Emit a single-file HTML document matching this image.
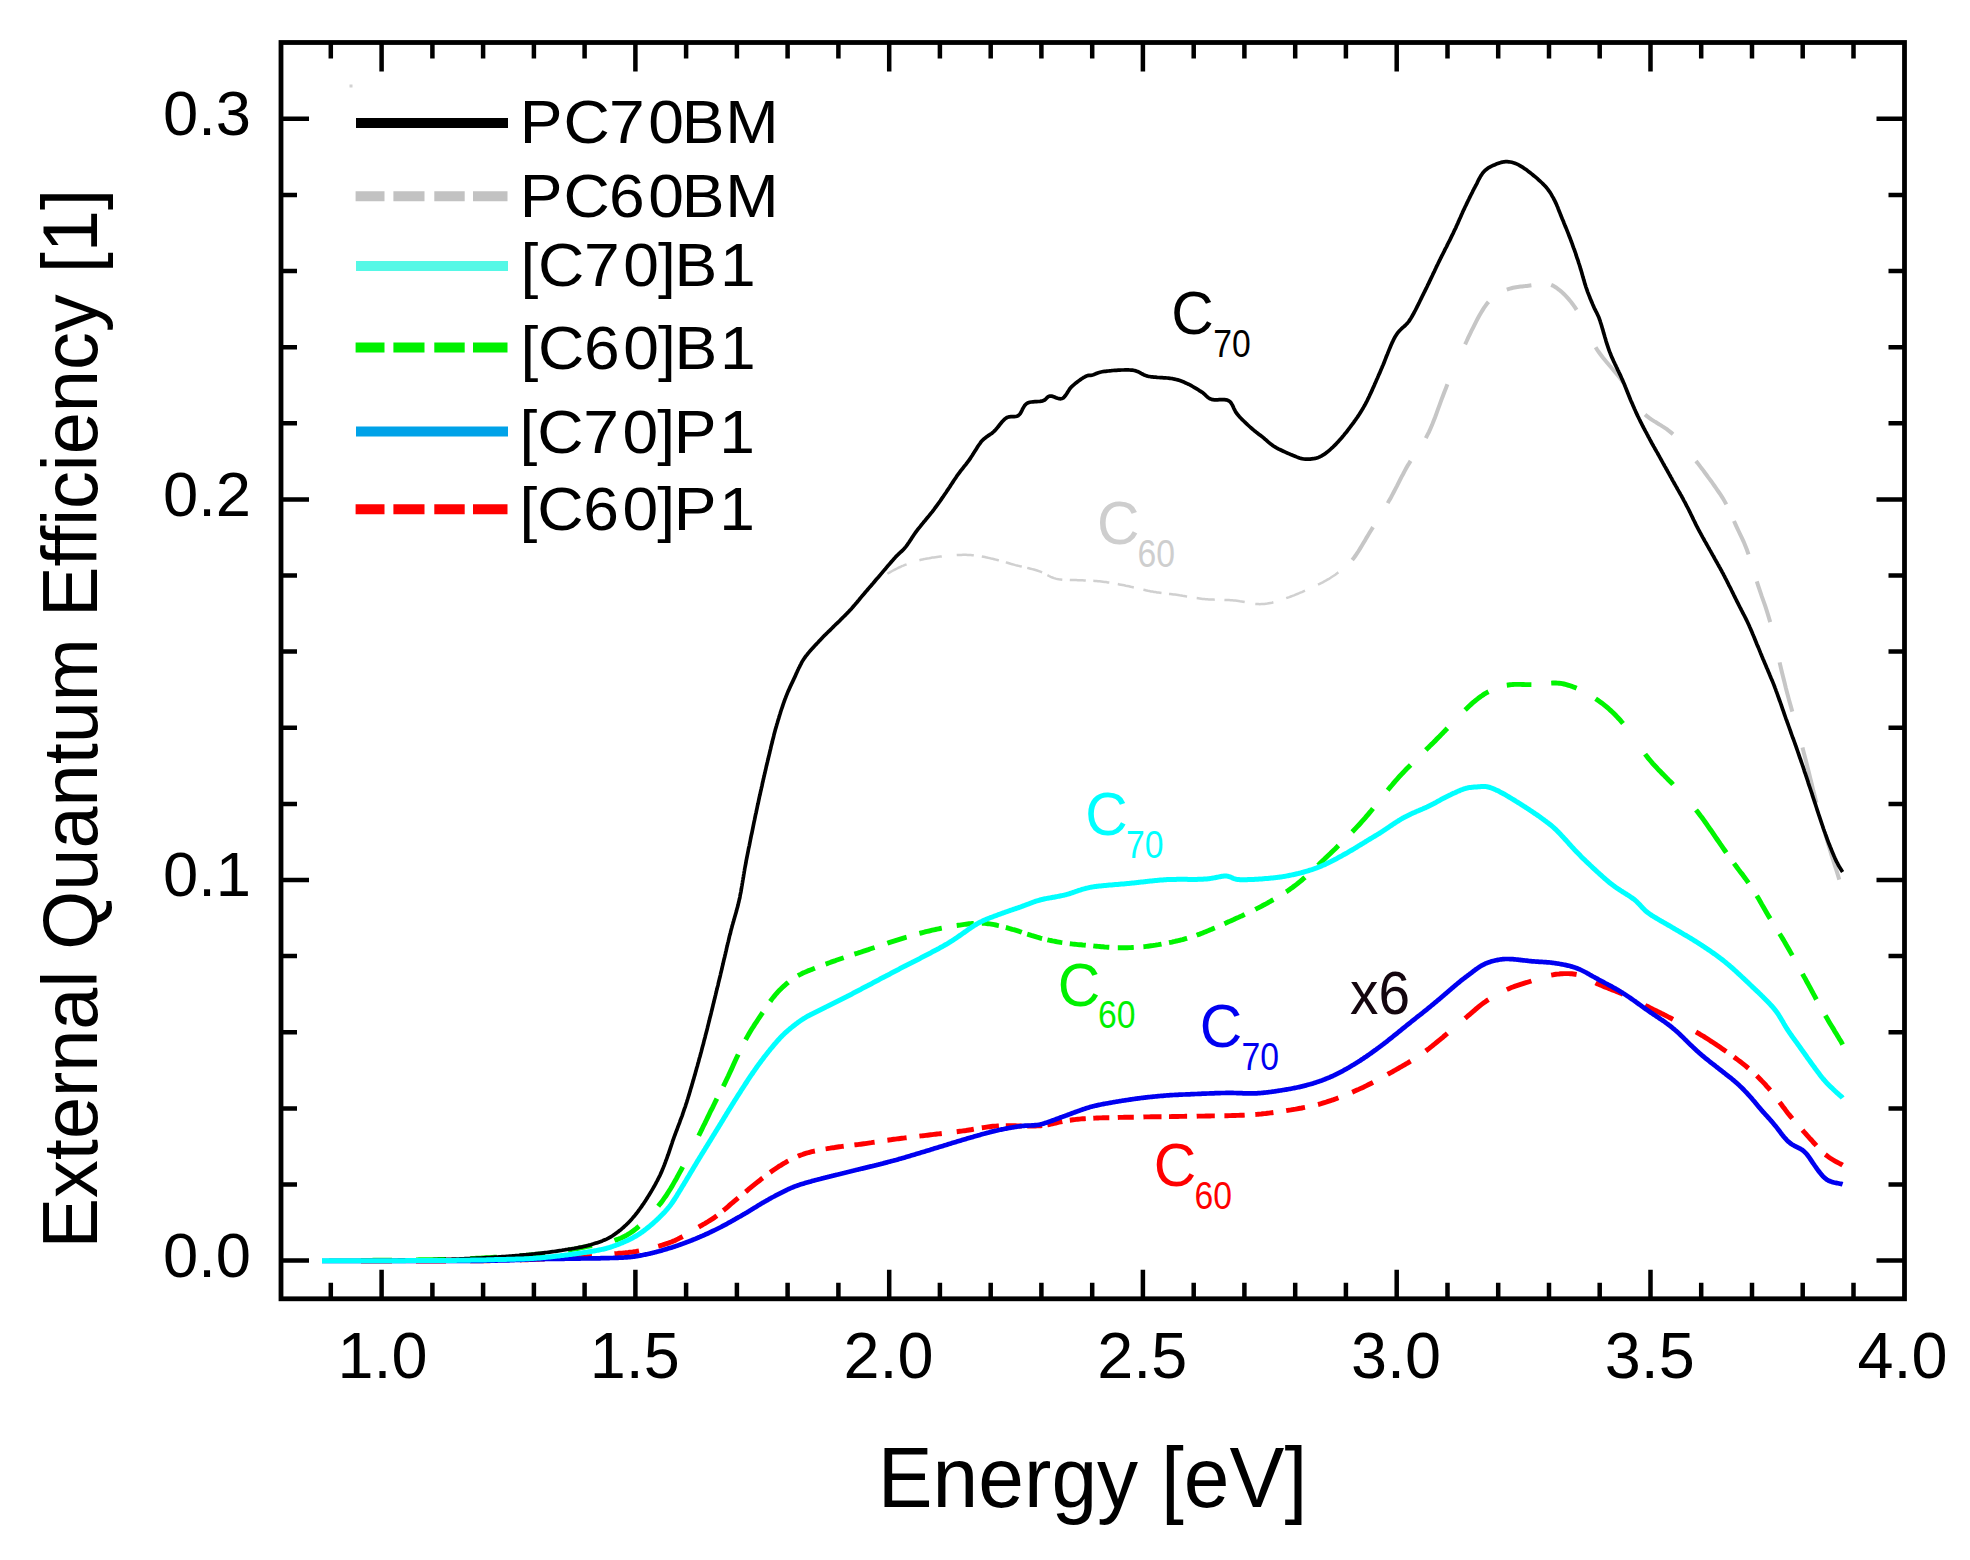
<!DOCTYPE html>
<html lang="en"><head><meta charset="utf-8"><title>External Quantum Efficiency</title>
<style>html,body{margin:0;padding:0;background:#fff}svg{display:block}</style></head>
<body>
<svg width="1970" height="1560" viewBox="0 0 1970 1560">
<rect width="1970" height="1560" fill="#fff"/>
<path d="M887.4,573.8 L889.0,572.8 L890.6,571.9 L892.2,571.0 L893.8,570.2 L895.4,569.3 L897.0,568.5 L898.6,567.7 L900.2,567.0 L901.8,566.2 L903.4,565.6 L905.0,564.9 L906.6,564.3 M919.4,560.2 L921.0,559.8 L922.6,559.4 L924.2,559.1 L925.8,558.7 L927.4,558.4 L929.0,558.2 L930.6,557.9 L932.2,557.6 L933.8,557.4 L935.4,557.2 L937.0,557.0 L938.6,556.8 L940.2,556.6 L941.8,556.4 M956.7,555.1 L958.3,555.0 L959.8,554.9 L961.4,554.9 L962.9,554.8 L964.5,554.8 L966.0,554.8 L967.6,554.9 L969.1,554.9 L970.7,555.0 L972.2,555.2 L973.8,555.3 M981.8,556.5 L983.4,556.8 L984.9,557.1 L986.5,557.4 L988.0,557.8 L989.6,558.1 L991.1,558.5 L992.7,558.8 L994.2,559.2 L995.8,559.6 L997.3,560.0 L998.9,560.4 M1005.8,562.4 L1007.4,562.8 L1009.0,563.3 L1010.6,563.8 L1012.2,564.2 L1013.8,564.6 L1015.4,565.1 L1017.0,565.5 L1018.6,565.9 L1020.2,566.3 L1021.8,566.6 M1027.2,567.9 L1028.9,568.3 L1030.5,568.7 L1032.2,569.1 L1033.8,569.5 L1035.5,570.0 L1037.1,570.5 L1038.8,571.1 L1040.4,571.7 L1042.1,572.4 M1047.4,575.1 L1049.1,576.0 L1050.7,576.8 L1052.4,577.5 L1054.0,578.1 L1055.7,578.6 L1057.3,579.0 L1059.0,579.3 L1060.6,579.5 L1062.3,579.7 M1069.8,579.9 L1071.4,580.0 L1073.0,580.0 L1074.6,580.1 L1076.2,580.1 L1077.8,580.2 L1079.4,580.2 L1081.0,580.3 L1082.6,580.3 L1084.2,580.4 L1085.8,580.5 M1093.3,580.8 L1094.9,580.9 L1096.5,581.0 L1098.1,581.2 L1099.7,581.3 L1101.3,581.5 L1102.9,581.7 L1104.5,581.9 L1106.1,582.1 L1107.7,582.4 L1109.3,582.6 M1117.8,584.1 L1119.4,584.4 L1121.0,584.7 L1122.6,585.0 L1124.2,585.3 L1125.8,585.7 L1127.4,586.0 L1129.0,586.3 L1130.6,586.7 L1132.2,587.1 L1133.8,587.4 M1143.4,589.8 L1144.9,590.1 L1146.4,590.4 L1147.9,590.8 L1149.4,591.1 L1150.9,591.4 L1152.5,591.6 L1154.0,591.9 L1155.5,592.1 L1157.0,592.4 L1158.5,592.6 L1160.0,592.8 L1161.5,593.0 M1169.0,593.9 L1170.5,594.0 L1172.0,594.2 L1173.5,594.4 L1175.0,594.6 L1176.5,594.8 L1178.0,595.0 L1179.6,595.3 L1181.1,595.5 L1182.6,595.8 L1184.1,596.0 L1185.6,596.3 L1187.1,596.5 M1196.7,598.1 L1198.2,598.3 L1199.7,598.5 L1201.2,598.7 L1202.7,598.9 L1204.2,599.0 L1205.8,599.2 L1207.3,599.3 L1208.8,599.4 L1210.3,599.5 L1211.8,599.6 L1213.3,599.6 L1214.8,599.7 M1224.4,599.9 L1226.0,600.0 L1227.5,600.0 L1229.1,600.1 L1230.6,600.2 L1232.2,600.3 L1233.8,600.4 L1235.3,600.5 L1236.9,600.7 L1238.5,600.9 L1240.0,601.2 L1241.6,601.4 L1243.1,601.7 L1244.7,602.0 M1255.3,603.9 L1256.8,604.0 L1258.3,604.1 L1259.8,604.2 L1261.3,604.1 L1262.8,604.1 L1264.3,604.0 L1265.9,603.8 L1267.4,603.6 L1268.9,603.3 L1270.4,603.0 L1271.9,602.7 L1273.4,602.3 M1286.2,598.2 L1287.8,597.6 L1289.3,597.1 L1290.9,596.5 L1292.5,595.9 L1294.0,595.3 L1295.6,594.6 L1297.2,594.0 L1298.7,593.4 L1300.3,592.7 L1301.9,592.1 L1303.4,591.4 L1305.0,590.7 M1318.0,584.7 L1319.6,583.9 L1321.1,583.1 L1322.7,582.3 L1324.3,581.4 L1325.8,580.6 L1327.4,579.7 L1329.0,578.8 L1330.6,577.8 L1332.1,576.8 L1333.7,575.8 L1335.3,574.7 L1336.8,573.5 L1338.4,572.4" fill="none" stroke="#d0d0d0" stroke-width="2.5"/>
<path d="M1352.2,559.9 L1353.8,557.9 L1355.4,555.8 L1357.0,553.4 L1358.6,551.0 L1360.2,548.4 L1361.8,545.8 L1363.4,543.1 L1365.0,540.4 L1366.6,537.6 L1368.2,535.0 L1369.8,532.3 L1371.4,529.7 L1373.0,527.1 M1387.7,503.1 L1389.2,500.4 L1390.8,497.7 L1392.3,494.9 L1393.8,492.0 L1395.3,489.1 L1396.9,486.1 L1398.4,483.1 L1399.9,480.1 L1401.4,477.1 L1403.0,474.2 L1404.5,471.3 L1406.0,468.5 L1407.5,465.9 L1409.1,463.4 L1410.6,460.9 M1425.8,438.1 L1427.3,435.2 L1428.9,432.1 L1430.4,428.7 L1432.0,425.1 L1433.5,421.2 L1435.1,417.2 L1436.6,413.1 L1438.1,408.9 L1439.7,404.6 L1441.2,400.4 L1442.8,396.2 L1444.3,392.2 L1445.9,388.2 L1447.4,384.3 M1465.1,344.3 L1466.7,341.0 L1468.2,337.7 L1469.8,334.5 L1471.3,331.2 L1472.9,328.1 L1474.5,324.9 L1476.0,321.8 L1477.6,318.8 L1479.1,316.0 L1480.7,313.2 L1482.3,310.6 L1483.8,308.1 L1485.4,305.9 L1486.9,303.8 L1488.5,301.9 M1506.8,289.6 L1508.3,289.1 L1509.9,288.6 L1511.4,288.2 L1513.0,287.8 L1514.5,287.5 L1516.0,287.2 L1517.6,287.0 L1519.1,286.8 L1520.6,286.6 L1522.2,286.4 L1523.7,286.2 L1525.2,286.1 L1526.8,285.9 L1528.3,285.7 L1529.9,285.5 L1531.4,285.3 M1551.2,284.9 L1552.8,285.6 L1554.4,286.5 L1556.0,287.5 L1557.5,288.6 L1559.1,289.8 L1560.7,291.1 L1562.3,292.5 L1563.9,294.0 L1565.5,295.6 L1567.1,297.3 L1568.7,299.1 L1570.2,300.9 L1571.8,303.0 L1573.4,305.1 L1575.0,307.4 L1576.6,309.9 M1595.6,347.2 L1597.1,349.6 L1598.6,351.8 L1600.2,354.0 L1601.7,356.0 L1603.2,358.0 L1604.7,359.8 L1606.3,361.7 L1607.8,363.5 L1609.3,365.3 L1610.8,367.0 L1612.3,368.8 L1613.9,370.6 L1615.4,372.4 L1616.9,374.2 L1618.4,376.1 L1620.0,378.1 L1621.5,380.1 L1623.0,382.3 M1645.1,414.5 L1646.6,415.9 L1648.2,417.1 L1649.8,418.3 L1651.3,419.4 L1652.8,420.4 L1654.4,421.4 L1656.0,422.3 L1657.5,423.3 L1659.0,424.2 L1660.6,425.1 L1662.1,426.1 L1663.7,427.1 L1665.2,428.1 L1666.8,429.2 L1668.3,430.4 L1669.9,431.6 L1671.5,432.9 L1673.0,434.2 M1696.0,461.0 L1697.5,462.9 L1699.0,464.9 L1700.5,466.9 L1702.1,468.9 L1703.6,470.9 L1705.1,473.0 L1706.6,475.0 L1708.1,477.1 L1709.6,479.1 L1711.2,481.2 L1712.7,483.3 L1714.2,485.5 L1715.7,487.6 L1717.2,489.8 L1718.7,492.0 L1720.2,494.2 L1721.8,496.6 L1723.3,499.0 L1724.8,501.6 L1726.3,504.4 M1734.0,521.0 L1735.6,524.6 L1737.2,528.1 L1738.8,531.5 L1740.4,534.8 L1742.1,538.3 L1743.7,541.8 L1745.3,545.7 L1746.9,549.8 L1748.5,554.3 M1756.8,581.4 L1758.5,586.6 L1760.2,591.6 L1761.8,596.4 L1763.5,601.1 L1765.2,605.9 L1766.8,610.9 L1768.5,616.3 L1770.2,622.1 M1779.6,662.4 L1781.2,669.2 L1782.8,675.8 L1784.4,682.1 L1785.9,688.3 L1787.5,694.3 L1789.1,700.2 L1790.7,705.9 L1792.3,711.6 M1802.5,747.6 L1804.0,753.4 L1805.6,759.4 L1807.1,765.5 L1808.7,771.7 L1810.2,778.0 L1811.8,784.3 L1813.3,790.6 L1814.9,796.7 L1816.4,802.7 M1825.3,834.5 L1826.9,839.7 L1828.4,844.9 L1830.0,850.0 L1831.5,855.1 L1833.1,860.0 L1834.6,864.9 L1836.2,869.6 L1837.7,874.3 L1839.3,879.6" fill="none" stroke="#c6c6c6" stroke-width="4.0"/>
<path d="M361.0,1260.5 L362.6,1260.4 L364.1,1260.4 L365.6,1260.4 L367.2,1260.4 L368.8,1260.4 L370.3,1260.4 L371.9,1260.4 L373.4,1260.3 L374.9,1260.3 L376.5,1260.3 L378.1,1260.3 L379.6,1260.3 L381.1,1260.3 L382.7,1260.3 L384.2,1260.2 L385.8,1260.2 L387.4,1260.2 L388.9,1260.2 L390.4,1260.2 L392.0,1260.2 M416.0,1259.9 L417.5,1259.9 L419.0,1259.8 L420.5,1259.8 L422.0,1259.8 L423.5,1259.8 L425.0,1259.8 L426.5,1259.7 L428.0,1259.7 L429.5,1259.7 L431.0,1259.7 L432.5,1259.6 L434.0,1259.6 L435.5,1259.6 L437.0,1259.6 L438.5,1259.5 L440.0,1259.5 L441.5,1259.5 L443.0,1259.4 L444.5,1259.4 L446.0,1259.4 M470.0,1258.6 L471.5,1258.5 L473.0,1258.4 L474.5,1258.4 L476.0,1258.3 L477.5,1258.2 L479.0,1258.1 L480.5,1258.1 L482.0,1258.0 L483.5,1257.9 L485.0,1257.8 L486.5,1257.7 L488.0,1257.7 L489.5,1257.6 L491.0,1257.5 L492.5,1257.4 L494.0,1257.3 L495.5,1257.3 L497.0,1257.2 M520.0,1255.7 L521.6,1255.6 L523.1,1255.5 L524.7,1255.4 L526.2,1255.3 L527.8,1255.1 L529.4,1255.0 L530.9,1254.9 L532.5,1254.7 L534.1,1254.6 L535.6,1254.5 L537.2,1254.3 L538.8,1254.2 L540.3,1254.0 L541.9,1253.9 L543.4,1253.7 L545.0,1253.5 M568.0,1250.3 L569.5,1250.0 L571.0,1249.7 L572.5,1249.4 L574.0,1249.2 L575.5,1248.9 L577.0,1248.6 L578.5,1248.3 L580.0,1247.9 L581.5,1247.6 L583.0,1247.3 L584.5,1247.0 L586.0,1246.7 L587.5,1246.4 L589.0,1246.1 L590.5,1245.8 L592.0,1245.5 M614.5,1240.5 L616.0,1239.9 L617.6,1239.4 L619.1,1238.8 L620.6,1238.2 L622.2,1237.5 L623.7,1236.7 L625.2,1236.0 L626.8,1235.1 L628.3,1234.2 L629.8,1233.3 L631.3,1232.2 L632.9,1231.2 L634.4,1230.0 L635.9,1228.8 L637.5,1227.5 L639.0,1226.2 M658.2,1206.2 L659.7,1204.3 L661.3,1202.4 L662.8,1200.3 L664.3,1198.2 L665.9,1196.0 L667.4,1193.7 L668.9,1191.3 L670.5,1188.8 L672.0,1186.2 L673.5,1183.6 L675.0,1180.9 L676.6,1178.2 L678.1,1175.4 L679.6,1172.6 L681.2,1169.8 L682.7,1166.9 M698.7,1135.8 L700.2,1132.7 L701.7,1129.7 L703.2,1126.5 L704.8,1123.4 L706.3,1120.3 L707.8,1117.1 L709.3,1114.0 L710.8,1110.8 L712.4,1107.8 L713.9,1104.7 L715.4,1101.7 L716.9,1098.7 M723.3,1086.3 L725.0,1082.9 L726.6,1079.5 L728.3,1076.0 L729.9,1072.5 L731.6,1068.9 L733.2,1065.3 L734.9,1061.6 L736.5,1058.0 L738.2,1054.5 M745.6,1039.7 L747.2,1036.9 L748.7,1034.2 L750.3,1031.5 L751.8,1029.0 L753.4,1026.6 L754.9,1024.2 L756.5,1021.8 L758.0,1019.5 L759.6,1017.1 L761.1,1014.8 L762.7,1012.5 M770.2,1001.5 L771.7,999.4 L773.2,997.4 L774.7,995.6 L776.2,993.8 L777.7,992.1 L779.2,990.5 L780.8,989.0 L782.3,987.5 L783.8,986.1 L785.3,984.8 L786.8,983.5 L788.3,982.3 M797.9,975.7 L799.4,974.9 L801.0,974.1 L802.5,973.3 L804.1,972.6 L805.6,971.9 L807.2,971.3 L808.7,970.6 L810.3,970.0 L811.8,969.4 L813.4,968.8 L814.9,968.2 M825.6,964.1 L827.1,963.6 L828.6,963.0 L830.1,962.5 L831.6,961.9 L833.1,961.4 L834.7,960.9 L836.2,960.3 L837.7,959.8 L839.2,959.3 L840.7,958.8 L842.2,958.3 L843.7,957.8 M854.4,954.2 L856.0,953.7 L857.5,953.2 L859.1,952.7 L860.6,952.2 L862.2,951.7 L863.7,951.1 L865.3,950.6 L866.8,950.1 L868.4,949.6 L869.9,949.0 L871.5,948.5 L873.0,948.0 L874.6,947.5 M887.4,943.2 L889.0,942.6 L890.6,942.1 L892.2,941.6 L893.8,941.1 L895.4,940.6 L897.0,940.1 L898.6,939.6 L900.2,939.1 L901.8,938.6 L903.4,938.1 L905.0,937.6 L906.6,937.2 M919.4,933.4 L921.0,933.0 L922.6,932.6 L924.2,932.2 L925.8,931.7 L927.4,931.3 L929.0,931.0 L930.6,930.6 L932.2,930.2 L933.8,929.8 L935.4,929.5 L937.0,929.1 L938.6,928.8 L940.2,928.5 L941.8,928.2 M956.7,925.5 L958.3,925.3 L959.8,925.1 L961.4,924.8 L962.9,924.6 L964.5,924.4 L966.0,924.2 L967.6,924.0 L969.1,923.8 L970.7,923.6 L972.2,923.5 L973.8,923.4 M981.8,923.2 L983.4,923.2 L984.9,923.4 L986.5,923.5 L988.0,923.7 L989.6,923.9 L991.1,924.1 L992.7,924.4 L994.2,924.7 L995.8,925.0 L997.3,925.4 L998.9,925.7 M1005.8,927.5 L1007.4,927.9 L1009.0,928.4 L1010.6,928.8 L1012.2,929.3 L1013.8,929.7 L1015.4,930.2 L1017.0,930.7 L1018.6,931.2 L1020.2,931.7 L1021.8,932.3 M1027.2,934.1 L1028.9,934.6 L1030.5,935.1 L1032.2,935.7 L1033.8,936.2 L1035.5,936.7 L1037.1,937.2 L1038.8,937.6 L1040.4,938.1 L1042.1,938.5 M1047.4,939.8 L1049.1,940.2 L1050.7,940.5 L1052.4,940.9 L1054.0,941.2 L1055.7,941.5 L1057.3,941.8 L1059.0,942.1 L1060.6,942.4 L1062.3,942.6 M1069.8,943.7 L1071.4,943.9 L1073.0,944.1 L1074.6,944.2 L1076.2,944.4 L1077.8,944.6 L1079.4,944.7 L1081.0,944.8 L1082.6,945.0 L1084.2,945.1 L1085.8,945.3 M1093.3,945.9 L1094.9,946.1 L1096.5,946.2 L1098.1,946.4 L1099.7,946.5 L1101.3,946.7 L1102.9,946.8 L1104.5,947.0 L1106.1,947.1 L1107.7,947.2 L1109.3,947.3 M1117.8,947.7 L1119.4,947.7 L1121.0,947.7 L1122.6,947.7 L1124.2,947.7 L1125.8,947.7 L1127.4,947.7 L1129.0,947.6 L1130.6,947.6 L1132.2,947.5 L1133.8,947.4 M1143.4,946.7 L1144.9,946.6 L1146.4,946.4 L1147.9,946.2 L1149.4,946.0 L1150.9,945.8 L1152.5,945.6 L1154.0,945.4 L1155.5,945.2 L1157.0,944.9 L1158.5,944.7 L1160.0,944.4 L1161.5,944.1 M1169.0,942.7 L1170.5,942.4 L1172.0,942.1 L1173.5,941.7 L1175.0,941.4 L1176.5,941.0 L1178.0,940.7 L1179.6,940.3 L1181.1,939.9 L1182.6,939.6 L1184.1,939.1 L1185.6,938.7 L1187.1,938.3 M1196.7,935.2 L1198.2,934.6 L1199.7,934.1 L1201.2,933.5 L1202.7,932.9 L1204.2,932.3 L1205.8,931.7 L1207.3,931.1 L1208.8,930.4 L1210.3,929.8 L1211.8,929.2 L1213.3,928.5 L1214.8,927.9 M1224.4,923.7 L1226.0,923.0 L1227.5,922.3 L1229.1,921.6 L1230.6,920.9 L1232.2,920.2 L1233.8,919.5 L1235.3,918.8 L1236.9,918.1 L1238.5,917.4 L1240.0,916.6 L1241.6,915.9 L1243.1,915.2 L1244.7,914.4 M1255.3,909.4 L1256.8,908.6 L1258.3,907.9 L1259.8,907.1 L1261.3,906.3 L1262.8,905.5 L1264.3,904.7 L1265.9,903.9 L1267.4,903.1 L1268.9,902.2 L1270.4,901.4 L1271.9,900.5 L1273.4,899.7 M1286.2,891.8 L1287.8,890.8 L1289.3,889.7 L1290.9,888.6 L1292.5,887.5 L1294.0,886.3 L1295.6,885.1 L1297.2,883.9 L1298.7,882.6 L1300.3,881.3 L1301.9,880.0 L1303.4,878.7 L1305.0,877.3 M1318.0,865.3 L1319.6,863.8 L1321.1,862.3 L1322.7,860.7 L1324.3,859.2 L1325.8,857.7 L1327.4,856.2 L1329.0,854.7 L1330.6,853.2 L1332.1,851.7 L1333.7,850.2 L1335.3,848.7 L1336.8,847.2 L1338.4,845.6 M1352.2,831.9 L1353.8,830.3 L1355.4,828.6 L1357.0,826.9 L1358.6,825.2 L1360.2,823.5 L1361.8,821.7 L1363.4,819.9 L1365.0,818.1 L1366.6,816.2 L1368.2,814.3 L1369.8,812.4 L1371.4,810.5 L1373.0,808.5 M1387.7,790.2 L1389.2,788.3 L1390.8,786.5 L1392.3,784.7 L1393.8,782.9 L1395.3,781.1 L1396.9,779.4 L1398.4,777.7 L1399.9,776.0 L1401.4,774.4 L1403.0,772.7 L1404.5,771.1 L1406.0,769.5 L1407.5,768.0 L1409.1,766.4 L1410.6,764.9 M1425.8,750.0 L1427.3,748.5 L1428.9,747.0 L1430.4,745.4 L1432.0,743.9 L1433.5,742.4 L1435.1,740.9 L1436.6,739.3 L1438.1,737.7 L1439.7,736.2 L1441.2,734.6 L1442.8,733.0 L1444.3,731.4 L1445.9,729.8 L1447.4,728.2 M1465.1,710.0 L1466.7,708.5 L1468.2,707.0 L1469.8,705.5 L1471.3,704.1 L1472.9,702.7 L1474.5,701.4 L1476.0,700.1 L1477.6,698.9 L1479.1,697.7 L1480.7,696.5 L1482.3,695.5 L1483.8,694.4 L1485.4,693.5 L1486.9,692.5 L1488.5,691.7 M1506.8,685.2 L1508.3,685.0 L1509.9,684.8 L1511.4,684.6 L1513.0,684.5 L1514.5,684.4 L1516.0,684.4 L1517.6,684.4 L1519.1,684.4 L1520.6,684.4 L1522.2,684.5 L1523.7,684.5 L1525.2,684.6 L1526.8,684.6 L1528.3,684.6 L1529.9,684.6 L1531.4,684.6 M1551.2,683.1 L1552.8,683.0 L1554.4,683.0 L1556.0,683.0 L1557.5,683.1 L1559.1,683.2 L1560.7,683.4 L1562.3,683.7 L1563.9,684.0 L1565.5,684.4 L1567.1,684.8 L1568.7,685.3 L1570.2,685.8 L1571.8,686.3 L1573.4,686.9 L1575.0,687.6 L1576.6,688.3 M1595.6,698.7 L1597.1,699.7 L1598.6,700.8 L1600.2,701.9 L1601.7,703.0 L1603.2,704.1 L1604.7,705.3 L1606.3,706.6 L1607.8,707.9 L1609.3,709.2 L1610.8,710.6 L1612.3,712.0 L1613.9,713.5 L1615.4,715.0 L1616.9,716.6 L1618.4,718.2 L1620.0,719.9 L1621.5,721.7 L1623.0,723.5 M1645.1,754.1 L1646.6,756.1 L1648.2,758.1 L1649.8,760.0 L1651.3,761.8 L1652.8,763.6 L1654.4,765.3 L1656.0,766.9 L1657.5,768.6 L1659.0,770.2 L1660.6,771.8 L1662.1,773.4 L1663.7,774.9 L1665.2,776.5 L1666.8,778.1 L1668.3,779.7 L1669.9,781.2 L1671.5,782.8 L1673.0,784.5 M1696.0,809.9 L1697.5,811.8 L1699.0,813.8 L1700.5,815.8 L1702.1,817.8 L1703.6,819.9 L1705.1,822.0 L1706.6,824.2 L1708.1,826.3 L1709.6,828.5 L1711.2,830.7 L1712.7,832.9 L1714.2,835.1 L1715.7,837.3 L1717.2,839.5 L1718.7,841.7 L1720.2,843.9 L1721.8,846.1 L1723.3,848.3 L1724.8,850.5 L1726.3,852.7 M1734.0,863.4 L1735.6,865.6 L1737.2,867.7 L1738.8,869.9 L1740.4,872.0 L1742.1,874.1 L1743.7,876.3 L1745.3,878.4 L1746.9,880.6 L1748.5,882.9 M1756.8,895.8 L1758.5,898.6 L1760.2,901.5 L1761.8,904.4 L1763.5,907.3 L1765.2,910.2 L1766.8,913.0 L1768.5,915.9 L1770.2,918.6 M1779.6,933.8 L1781.2,936.3 L1782.8,938.9 L1784.4,941.6 L1785.9,944.3 L1787.5,947.0 L1789.1,949.8 L1790.7,952.6 L1792.3,955.4 M1802.5,973.8 L1804.0,976.6 L1805.6,979.4 L1807.1,982.3 L1808.7,985.1 L1810.2,987.9 L1811.8,990.8 L1813.3,993.7 L1814.9,996.6 L1816.4,999.5 M1825.3,1015.4 L1826.9,1018.1 L1828.4,1020.7 L1830.0,1023.4 L1831.6,1026.0 L1833.2,1028.6 L1834.7,1031.2 L1836.3,1033.8 L1837.9,1036.4 L1839.4,1039.0 L1841.0,1041.5 L1842.6,1044.7" fill="none" stroke="#00f400" stroke-width="4.9"/>
<path d="M322.0,1260.8 L322.8,1260.8 L323.6,1260.8 L324.5,1260.8 L325.5,1260.8 L326.5,1260.8 L327.5,1260.8 L328.6,1260.8 L329.7,1260.7 L330.9,1260.7 L332.2,1260.7 L333.4,1260.7 L334.7,1260.7 L336.1,1260.7 L337.5,1260.7 L338.9,1260.7 L340.4,1260.7 L341.9,1260.7 L343.4,1260.7 L344.9,1260.6 L346.5,1260.6 L348.1,1260.6 L349.7,1260.6 L351.4,1260.6 L353.1,1260.6 L354.7,1260.6 L356.4,1260.6 L358.2,1260.6 L359.9,1260.5 L361.7,1260.5 L363.4,1260.5 L365.2,1260.5 L367.0,1260.5 L368.8,1260.5 L370.6,1260.5 L372.4,1260.5 L374.2,1260.4 L376.0,1260.4 L377.8,1260.4 L379.6,1260.4 L381.3,1260.4 L383.1,1260.4 L384.9,1260.4 L386.7,1260.4 L388.4,1260.3 L390.2,1260.3 L391.9,1260.3 L393.6,1260.3 L395.3,1260.3 L397.0,1260.3 L398.7,1260.2 L400.3,1260.2 L401.9,1260.2 L403.5,1260.2 L405.1,1260.2 L406.6,1260.2 L408.1,1260.2 L409.6,1260.1 L411.0,1260.1 L412.4,1260.1 L413.8,1260.1 L415.1,1260.1 L416.4,1260.1 L417.6,1260.0 L418.8,1260.0 L420.0,1260.0 L422.2,1260.0 L424.3,1259.9 L426.4,1259.9 L428.4,1259.9 L430.3,1259.8 L432.2,1259.8 L434.0,1259.7 L435.8,1259.7 L437.5,1259.7 L439.2,1259.6 L440.8,1259.6 L442.3,1259.5 L443.9,1259.5 L445.4,1259.4 L446.8,1259.4 L448.2,1259.3 L449.6,1259.3 L451.0,1259.3 L452.3,1259.2 L453.6,1259.2 L454.9,1259.1 L456.2,1259.1 L457.5,1259.0 L458.7,1259.0 L460.0,1258.9 L461.2,1258.9 L462.5,1258.8 L463.7,1258.8 L465.0,1258.7 L466.2,1258.7 L467.5,1258.6 L468.7,1258.6 L470.0,1258.5 L471.8,1258.4 L473.6,1258.3 L475.3,1258.3 L477.0,1258.2 L478.6,1258.1 L480.2,1258.0 L481.8,1258.0 L483.3,1257.9 L484.8,1257.8 L486.3,1257.7 L487.7,1257.6 L489.2,1257.6 L490.6,1257.5 L492.0,1257.4 L493.4,1257.3 L494.8,1257.2 L496.2,1257.1 L497.7,1257.0 L499.1,1256.9 L500.5,1256.8 L502.0,1256.7 L503.5,1256.6 L505.0,1256.5 L506.5,1256.4 L508.1,1256.3 L509.6,1256.1 L511.2,1256.0 L512.8,1255.9 L514.4,1255.8 L516.0,1255.6 L517.6,1255.5 L519.1,1255.4 L520.7,1255.2 L522.3,1255.1 L523.9,1254.9 L525.5,1254.8 L527.0,1254.6 L528.5,1254.5 L530.1,1254.3 L531.6,1254.2 L533.0,1254.0 L534.5,1253.9 L535.9,1253.7 L537.3,1253.6 L538.7,1253.4 L540.0,1253.3 L541.7,1253.1 L543.4,1252.9 L545.1,1252.7 L546.6,1252.5 L548.2,1252.3 L549.7,1252.1 L551.1,1251.9 L552.6,1251.7 L554.0,1251.5 L555.4,1251.3 L556.8,1251.1 L558.2,1250.9 L559.6,1250.7 L561.0,1250.5 L562.5,1250.2 L563.9,1250.0 L565.4,1249.7 L566.9,1249.5 L568.4,1249.2 L569.9,1249.0 L571.4,1248.8 L572.9,1248.5 L574.4,1248.3 L576.0,1248.0 L577.5,1247.7 L579.0,1247.4 L580.5,1247.2 L582.0,1246.9 L583.5,1246.5 L585.0,1246.2 L586.4,1245.9 L587.9,1245.5 L589.3,1245.1 L590.8,1244.7 L592.3,1244.2 L593.7,1243.8 L595.2,1243.3 L596.7,1242.9 L598.1,1242.4 L599.5,1241.9 L600.9,1241.4 L602.3,1240.9 L603.7,1240.3 L605.1,1239.7 L606.6,1239.1 L608.0,1238.4 L609.4,1237.6 L610.8,1236.8 L612.2,1236.0 L613.6,1235.0 L614.7,1234.2 L615.9,1233.4 L617.0,1232.6 L618.2,1231.7 L619.3,1230.8 L620.5,1229.9 L621.6,1229.0 L622.7,1228.0 L623.9,1227.0 L625.0,1225.9 L626.2,1224.9 L627.3,1223.8 L628.5,1222.6 L629.6,1221.4 L630.7,1220.2 L631.9,1218.9 L633.0,1217.6 L634.2,1216.3 L635.3,1214.9 L636.4,1213.5 L637.3,1212.4 L638.1,1211.3 L638.9,1210.2 L639.8,1209.0 L640.6,1207.8 L641.5,1206.6 L642.3,1205.4 L643.2,1204.2 L644.1,1202.9 L644.9,1201.6 L645.8,1200.3 L646.6,1198.9 L647.5,1197.6 L648.3,1196.2 L649.2,1194.9 L650.0,1193.5 L650.9,1192.1 L651.7,1190.7 L652.5,1189.3 L653.3,1187.9 L654.1,1186.5 L654.9,1185.1 L655.7,1183.7 L656.4,1182.2 L657.2,1180.8 L657.9,1179.4 L658.6,1178.0 L659.3,1176.6 L660.0,1175.3 L660.6,1173.9 L661.3,1172.4 L661.9,1171.0 L662.5,1169.6 L663.1,1168.1 L663.7,1166.6 L664.3,1165.2 L664.8,1163.7 L665.4,1162.2 L665.9,1160.7 L666.5,1159.2 L667.0,1157.8 L667.5,1156.3 L668.1,1154.8 L668.6,1153.3 L669.1,1151.8 L669.6,1150.3 L670.1,1148.9 L670.6,1147.4 L671.1,1145.9 L671.6,1144.5 L672.1,1143.0 L672.5,1141.6 L673.0,1140.2 L673.5,1138.8 L674.0,1137.4 L674.5,1136.0 L675.1,1134.5 L675.6,1133.1 L676.1,1131.7 L676.7,1130.3 L677.2,1128.9 L677.7,1127.5 L678.2,1126.2 L678.7,1124.9 L679.2,1123.6 L679.7,1122.3 L680.1,1121.0 L680.6,1119.7 L681.1,1118.4 L681.6,1117.1 L682.1,1115.8 L682.6,1114.4 L683.0,1113.0 L683.5,1111.6 L684.0,1110.2 L684.5,1108.7 L685.1,1107.1 L685.6,1105.6 L686.1,1103.9 L686.7,1102.3 L687.2,1100.5 L687.6,1099.3 L688.0,1098.0 L688.4,1096.7 L688.8,1095.4 L689.2,1094.1 L689.6,1092.7 L690.0,1091.4 L690.4,1090.0 L690.8,1088.6 L691.3,1087.2 L691.7,1085.8 L692.1,1084.3 L692.5,1082.9 L692.9,1081.4 L693.4,1079.9 L693.8,1078.5 L694.2,1077.0 L694.7,1075.4 L695.1,1073.9 L695.5,1072.4 L696.0,1070.9 L696.4,1069.3 L696.8,1067.8 L697.3,1066.2 L697.7,1064.6 L698.1,1063.1 L698.6,1061.5 L699.0,1059.9 L699.4,1058.3 L699.9,1056.7 L700.3,1055.2 L700.7,1053.6 L701.2,1052.0 L701.6,1050.4 L702.0,1048.8 L702.4,1047.2 L702.8,1045.8 L703.2,1044.4 L703.6,1043.0 L703.9,1041.5 L704.3,1040.1 L704.7,1038.6 L705.1,1037.2 L705.4,1035.7 L705.8,1034.2 L706.2,1032.7 L706.6,1031.2 L707.0,1029.7 L707.4,1028.2 L707.7,1026.7 L708.1,1025.2 L708.5,1023.6 L708.9,1022.1 L709.3,1020.6 L709.6,1019.0 L710.0,1017.5 L710.4,1016.0 L710.8,1014.5 L711.2,1012.9 L711.5,1011.4 L711.9,1009.9 L712.3,1008.3 L712.7,1006.8 L713.0,1005.3 L713.4,1003.8 L713.8,1002.3 L714.1,1000.8 L714.5,999.3 L714.9,997.8 L715.2,996.3 L715.6,994.9 L715.9,993.4 L716.3,992.0 L716.6,990.5 L717.0,989.1 L717.3,987.7 L717.7,986.3 L718.1,984.7 L718.4,983.1 L718.8,981.5 L719.2,979.9 L719.6,978.3 L720.0,976.7 L720.4,975.1 L720.7,973.5 L721.1,972.0 L721.5,970.4 L721.9,968.8 L722.2,967.2 L722.6,965.6 L723.0,964.1 L723.3,962.5 L723.7,961.0 L724.0,959.4 L724.4,957.9 L724.8,956.4 L725.1,954.9 L725.5,953.4 L725.8,951.9 L726.2,950.4 L726.5,949.0 L726.8,947.5 L727.2,946.1 L727.5,944.7 L727.8,943.3 L728.2,942.0 L728.5,940.6 L728.8,939.3 L729.1,938.0 L729.4,936.7 L729.7,935.4 L730.1,934.2 L730.4,933.0 L730.8,931.1 L731.3,929.2 L731.8,927.5 L732.2,925.8 L732.7,924.2 L733.1,922.6 L733.6,921.1 L734.0,919.6 L734.4,918.2 L734.8,916.8 L735.2,915.4 L735.6,914.0 L736.0,912.7 L736.4,911.3 L736.7,910.0 L737.1,908.6 L737.5,907.3 L737.8,905.9 L738.2,904.5 L738.5,903.0 L738.9,901.5 L739.2,900.0 L739.6,898.6 L739.9,897.1 L740.1,895.7 L740.4,894.2 L740.7,892.8 L741.0,891.3 L741.2,889.9 L741.5,888.4 L741.7,887.0 L742.0,885.5 L742.2,884.0 L742.5,882.5 L742.7,881.0 L743.0,879.5 L743.2,878.0 L743.5,876.6 L743.7,875.0 L744.0,873.5 L744.2,872.0 L744.5,870.5 L744.7,869.0 L745.0,867.5 L745.3,865.9 L745.6,864.4 L745.9,862.9 L746.1,861.4 L746.4,859.9 L746.7,858.4 L747.0,856.9 L747.3,855.4 L747.6,853.9 L747.9,852.3 L748.2,850.8 L748.5,849.2 L748.8,847.7 L749.2,846.1 L749.5,844.6 L749.8,843.0 L750.1,841.5 L750.4,840.0 L750.7,838.4 L751.0,836.9 L751.3,835.4 L751.7,833.8 L752.0,832.3 L752.3,830.8 L752.6,829.3 L752.9,827.8 L753.2,826.3 L753.5,824.8 L753.8,823.3 L754.1,821.8 L754.5,820.2 L754.8,818.7 L755.1,817.2 L755.4,815.7 L755.7,814.2 L756.1,812.7 L756.4,811.2 L756.7,809.7 L757.0,808.3 L757.3,806.8 L757.6,805.3 L758.0,803.8 L758.3,802.4 L758.6,800.9 L758.9,799.4 L759.2,798.0 L759.5,796.5 L759.9,795.1 L760.2,793.7 L760.5,792.2 L760.8,790.8 L761.2,789.2 L761.5,787.7 L761.9,786.2 L762.2,784.6 L762.5,783.1 L762.9,781.6 L763.2,780.0 L763.6,778.5 L763.9,777.0 L764.3,775.5 L764.6,774.0 L765.0,772.5 L765.3,771.0 L765.7,769.5 L766.0,768.0 L766.3,766.6 L766.7,765.1 L767.0,763.6 L767.4,762.2 L767.7,760.7 L768.1,759.3 L768.4,757.8 L768.8,756.2 L769.2,754.6 L769.6,753.1 L769.9,751.5 L770.3,750.0 L770.7,748.4 L771.0,746.9 L771.4,745.3 L771.8,743.8 L772.2,742.3 L772.5,740.7 L772.9,739.2 L773.3,737.7 L773.7,736.2 L774.0,734.7 L774.4,733.2 L774.8,731.8 L775.2,730.3 L775.6,728.8 L776.0,727.4 L776.5,725.8 L776.9,724.3 L777.4,722.7 L777.8,721.2 L778.3,719.6 L778.8,718.1 L779.2,716.6 L779.7,715.0 L780.2,713.5 L780.6,712.0 L781.1,710.5 L781.6,709.0 L782.1,707.6 L782.6,706.2 L783.0,704.8 L783.5,703.4 L784.0,702.0 L784.5,700.7 L784.9,699.4 L785.6,697.7 L786.2,696.1 L786.8,694.6 L787.4,693.1 L788.0,691.6 L788.7,690.2 L789.3,688.8 L789.9,687.4 L790.5,686.1 L791.2,684.7 L791.8,683.3 L792.5,682.0 L793.1,680.6 L793.8,679.1 L794.4,677.8 L795.1,676.4 L795.7,675.0 L796.3,673.6 L796.9,672.3 L797.5,670.9 L798.2,669.5 L798.8,668.1 L799.5,666.8 L800.2,665.4 L800.9,664.1 L801.6,662.7 L802.3,661.4 L803.1,660.1 L804.0,658.8 L804.8,657.6 L805.7,656.3 L806.7,655.1 L807.7,653.8 L808.7,652.6 L809.7,651.4 L810.7,650.2 L811.8,649.0 L812.9,647.9 L813.9,646.7 L815.0,645.5 L816.1,644.4 L817.1,643.3 L818.2,642.2 L819.2,641.1 L820.3,639.9 L821.4,638.7 L822.5,637.6 L823.5,636.5 L824.6,635.4 L825.7,634.4 L826.8,633.3 L827.9,632.2 L829.0,631.2 L830.1,630.1 L831.2,629.0 L832.2,628.0 L833.3,626.9 L834.4,625.8 L835.5,624.7 L836.6,623.7 L837.7,622.6 L838.8,621.6 L839.9,620.5 L840.9,619.4 L842.0,618.4 L843.1,617.3 L844.2,616.2 L845.3,615.1 L846.4,614.0 L847.5,612.9 L848.6,611.8 L849.6,610.6 L850.7,609.5 L851.7,608.4 L852.7,607.2 L853.7,606.0 L854.7,604.9 L855.7,603.7 L856.8,602.5 L857.8,601.3 L858.8,600.1 L859.8,598.8 L860.8,597.6 L861.8,596.4 L862.8,595.2 L863.9,594.0 L864.9,592.8 L865.9,591.6 L866.9,590.5 L867.9,589.3 L868.9,588.1 L869.9,586.9 L871.0,585.7 L872.0,584.5 L873.0,583.4 L874.0,582.2 L875.0,581.0 L876.0,579.8 L877.1,578.6 L878.1,577.4 L879.1,576.3 L880.1,575.1 L881.1,573.9 L882.2,572.6 L883.2,571.4 L884.3,570.1 L885.4,568.9 L886.4,567.6 L887.5,566.3 L888.6,565.1 L889.6,563.9 L890.6,562.7 L891.6,561.5 L892.6,560.4 L893.6,559.3 L894.5,558.3 L895.3,557.3 L896.7,555.9 L897.9,554.7 L899.0,553.6 L900.1,552.6 L901.1,551.7 L902.2,550.8 L903.2,549.7 L904.3,548.5 L905.5,547.1 L906.3,546.1 L907.2,544.9 L908.0,543.7 L908.9,542.5 L909.7,541.2 L910.6,539.9 L911.5,538.5 L912.4,537.1 L913.3,535.8 L914.3,534.3 L915.2,532.9 L916.3,531.5 L917.3,530.1 L918.2,528.9 L919.1,527.8 L920.1,526.6 L921.1,525.3 L922.1,524.1 L923.1,522.9 L924.1,521.6 L925.2,520.4 L926.2,519.1 L927.3,517.8 L928.3,516.6 L929.3,515.4 L930.3,514.1 L931.3,512.9 L932.2,511.8 L933.1,510.6 L934.1,509.3 L935.0,508.0 L936.0,506.8 L936.8,505.6 L937.7,504.4 L938.6,503.2 L939.4,502.0 L940.3,500.8 L941.1,499.6 L941.9,498.4 L942.8,497.2 L943.6,496.0 L944.4,494.8 L945.3,493.5 L946.2,492.2 L947.0,490.9 L947.9,489.6 L948.8,488.3 L949.7,487.0 L950.5,485.6 L951.4,484.3 L952.3,482.9 L953.2,481.6 L954.0,480.3 L954.9,479.0 L955.8,477.7 L956.6,476.4 L957.5,475.2 L958.4,473.9 L959.4,472.7 L960.3,471.4 L961.2,470.2 L962.2,469.1 L963.1,467.9 L964.0,466.7 L964.9,465.5 L965.9,464.4 L966.8,463.2 L967.7,461.9 L968.7,460.7 L969.6,459.4 L970.5,458.1 L971.3,456.8 L972.2,455.5 L973.1,454.1 L973.9,452.7 L974.8,451.3 L975.7,449.9 L976.6,448.5 L977.4,447.1 L978.3,445.8 L979.2,444.5 L980.1,443.3 L980.9,442.1 L981.8,441.1 L983.0,439.8 L984.2,438.7 L985.5,437.7 L986.7,436.8 L987.9,435.9 L989.1,435.1 L990.3,434.3 L991.6,433.4 L992.8,432.5 L994.0,431.4 L995.0,430.4 L996.0,429.3 L997.0,428.1 L998.1,426.8 L999.1,425.5 L1000.1,424.2 L1001.1,423.0 L1002.1,421.8 L1003.1,420.7 L1004.2,419.6 L1005.2,418.7 L1006.2,418.0 L1007.8,417.2 L1009.3,416.8 L1010.9,416.7 L1012.5,416.7 L1014.1,416.7 L1015.6,416.5 L1017.1,416.2 L1018.4,415.5 L1019.5,414.5 L1020.4,413.3 L1021.2,411.8 L1022.0,410.3 L1022.8,408.6 L1023.7,407.1 L1024.6,405.6 L1025.7,404.4 L1026.9,403.4 L1028.2,402.8 L1029.7,402.3 L1031.4,402.0 L1033.1,401.8 L1034.9,401.7 L1036.6,401.6 L1038.3,401.5 L1040.0,401.4 L1041.4,401.2 L1042.7,400.9 L1044.6,400.0 L1046.0,398.8 L1047.2,397.5 L1048.5,396.5 L1050.1,396.0 L1051.4,396.1 L1052.8,396.4 L1054.4,397.0 L1056.0,397.7 L1057.6,398.3 L1059.2,398.7 L1060.8,398.8 L1062.2,398.5 L1063.3,397.9 L1064.2,397.0 L1065.2,395.8 L1066.1,394.6 L1067.0,393.2 L1067.9,391.7 L1068.9,390.2 L1069.8,388.8 L1070.9,387.5 L1072.0,386.3 L1073.1,385.3 L1074.3,384.3 L1075.6,383.2 L1076.9,382.2 L1078.2,381.2 L1079.6,380.3 L1080.9,379.3 L1082.1,378.5 L1083.3,377.7 L1084.4,377.1 L1085.4,376.5 L1087.4,375.6 L1088.9,375.4 L1090.3,375.4 L1092.2,375.1 L1093.4,374.7 L1094.5,374.3 L1095.7,373.8 L1097.0,373.2 L1098.4,372.7 L1100.1,372.2 L1102.1,371.8 L1104.4,371.4 L1105.6,371.3 L1106.9,371.1 L1108.3,371.0 L1109.8,370.8 L1111.4,370.7 L1113.0,370.5 L1114.7,370.4 L1116.4,370.3 L1118.2,370.2 L1119.9,370.1 L1121.7,370.0 L1123.4,370.0 L1125.1,369.9 L1126.7,369.9 L1128.3,369.9 L1129.7,370.0 L1131.1,370.1 L1132.4,370.2 L1134.3,370.5 L1135.9,370.9 L1137.4,371.4 L1138.7,372.0 L1139.9,372.7 L1141.1,373.4 L1142.3,374.0 L1143.6,374.7 L1145.0,375.3 L1146.5,375.9 L1148.2,376.3 L1149.5,376.5 L1150.9,376.8 L1152.4,376.9 L1153.9,377.1 L1155.5,377.2 L1157.2,377.4 L1158.8,377.5 L1160.5,377.6 L1162.1,377.7 L1163.8,377.8 L1165.4,377.9 L1167.0,378.0 L1168.5,378.1 L1170.0,378.3 L1171.3,378.5 L1172.6,378.7 L1174.5,379.1 L1176.1,379.5 L1177.7,379.9 L1179.1,380.3 L1180.5,380.8 L1181.8,381.3 L1183.1,381.8 L1184.4,382.3 L1185.8,383.0 L1187.2,383.6 L1188.5,384.2 L1189.9,384.9 L1191.3,385.7 L1192.7,386.5 L1194.1,387.3 L1195.5,388.1 L1196.8,388.9 L1198.2,389.8 L1199.4,390.6 L1200.7,391.4 L1201.8,392.1 L1203.2,393.1 L1204.4,394.2 L1205.5,395.2 L1206.5,396.2 L1207.6,397.2 L1208.8,398.0 L1210.1,398.8 L1211.6,399.4 L1212.9,399.7 L1214.4,399.8 L1215.9,399.9 L1217.6,399.8 L1219.3,399.7 L1221.0,399.6 L1222.7,399.6 L1224.4,399.6 L1225.9,399.8 L1227.3,400.1 L1228.6,400.7 L1229.8,401.5 L1230.8,402.6 L1231.6,403.8 L1232.4,405.2 L1233.1,406.6 L1233.8,408.2 L1234.5,409.7 L1235.3,411.2 L1236.2,412.7 L1237.2,414.1 L1238.2,415.2 L1239.2,416.4 L1240.2,417.5 L1241.4,418.7 L1242.5,419.9 L1243.7,421.0 L1244.9,422.2 L1246.1,423.3 L1247.2,424.4 L1248.4,425.5 L1249.5,426.5 L1250.6,427.5 L1251.9,428.6 L1253.1,429.7 L1254.3,430.7 L1255.5,431.6 L1256.7,432.6 L1257.9,433.5 L1259.1,434.4 L1260.3,435.3 L1261.5,436.2 L1262.7,437.2 L1263.9,438.2 L1265.0,439.2 L1266.2,440.1 L1267.3,441.1 L1268.4,442.1 L1269.6,443.1 L1270.8,444.1 L1272.1,445.0 L1273.4,446.0 L1274.9,446.9 L1276.1,447.6 L1277.4,448.3 L1278.8,449.1 L1280.3,449.8 L1281.8,450.5 L1283.3,451.2 L1284.8,451.9 L1286.3,452.6 L1287.8,453.3 L1289.3,453.9 L1290.7,454.5 L1292.0,455.0 L1293.2,455.5 L1295.0,456.2 L1296.6,456.9 L1298.1,457.5 L1299.5,458.0 L1300.9,458.4 L1302.3,458.7 L1303.8,459.0 L1305.4,459.1 L1306.9,459.1 L1308.5,459.1 L1310.1,459.1 L1311.7,458.9 L1313.4,458.7 L1315.1,458.4 L1316.7,457.9 L1318.4,457.4 L1320.0,456.7 L1321.2,456.1 L1322.4,455.4 L1323.6,454.7 L1324.8,453.9 L1326.0,453.0 L1327.2,452.1 L1328.4,451.1 L1329.6,450.1 L1330.8,449.0 L1332.0,447.9 L1333.2,446.8 L1334.4,445.6 L1335.4,444.6 L1336.4,443.6 L1337.4,442.5 L1338.4,441.4 L1339.4,440.3 L1340.4,439.2 L1341.5,438.0 L1342.5,436.8 L1343.5,435.6 L1344.5,434.3 L1345.6,433.1 L1346.6,431.8 L1347.6,430.5 L1348.6,429.1 L1349.6,427.8 L1350.5,426.7 L1351.3,425.5 L1352.2,424.4 L1353.0,423.3 L1353.9,422.1 L1354.7,420.9 L1355.6,419.8 L1356.4,418.5 L1357.3,417.3 L1358.1,416.1 L1359.0,414.8 L1359.8,413.5 L1360.6,412.2 L1361.5,410.8 L1362.3,409.4 L1363.2,408.0 L1364.0,406.5 L1364.9,405.0 L1365.5,403.8 L1366.1,402.6 L1366.8,401.3 L1367.4,400.1 L1368.0,398.8 L1368.7,397.5 L1369.3,396.2 L1369.9,394.8 L1370.6,393.4 L1371.2,392.1 L1371.9,390.7 L1372.5,389.2 L1373.1,387.8 L1373.8,386.4 L1374.4,385.0 L1375.0,383.5 L1375.7,382.1 L1376.3,380.6 L1376.9,379.2 L1377.6,377.7 L1378.2,376.3 L1378.8,374.8 L1379.5,373.4 L1380.1,372.0 L1380.7,370.6 L1381.3,369.1 L1381.9,367.7 L1382.5,366.2 L1383.2,364.7 L1383.8,363.2 L1384.4,361.7 L1385.0,360.1 L1385.6,358.6 L1386.2,357.0 L1386.8,355.5 L1387.5,353.9 L1388.1,352.4 L1388.7,350.9 L1389.3,349.4 L1389.9,347.9 L1390.5,346.5 L1391.1,345.1 L1391.7,343.7 L1392.3,342.3 L1392.9,341.1 L1393.5,339.8 L1394.1,338.6 L1394.7,337.5 L1395.3,336.4 L1396.4,334.7 L1397.4,333.2 L1398.5,331.9 L1399.5,330.7 L1400.5,329.7 L1401.5,328.7 L1402.5,327.8 L1403.6,326.9 L1404.6,326.0 L1405.6,325.1 L1406.6,324.0 L1407.6,322.9 L1408.7,321.6 L1409.7,320.1 L1410.4,319.0 L1411.1,317.9 L1411.8,316.7 L1412.5,315.5 L1413.2,314.3 L1413.9,313.0 L1414.6,311.7 L1415.3,310.4 L1416.0,309.0 L1416.7,307.6 L1417.4,306.2 L1418.1,304.8 L1418.8,303.4 L1419.5,302.0 L1420.2,300.5 L1420.9,299.1 L1421.6,297.7 L1422.3,296.2 L1423.0,294.8 L1423.7,293.4 L1424.4,292.0 L1425.1,290.7 L1425.7,289.3 L1426.4,288.0 L1427.1,286.6 L1427.7,285.2 L1428.4,283.8 L1429.1,282.5 L1429.7,281.1 L1430.4,279.7 L1431.0,278.3 L1431.7,276.9 L1432.4,275.5 L1433.0,274.1 L1433.7,272.7 L1434.4,271.3 L1435.0,269.9 L1435.7,268.5 L1436.3,267.1 L1437.0,265.7 L1437.7,264.3 L1438.3,263.0 L1439.0,261.6 L1439.7,260.2 L1440.4,258.7 L1441.1,257.3 L1441.8,255.9 L1442.6,254.4 L1443.3,253.0 L1444.0,251.6 L1444.7,250.1 L1445.4,248.7 L1446.2,247.3 L1446.9,245.9 L1447.6,244.4 L1448.3,243.0 L1449.0,241.7 L1449.7,240.3 L1450.4,238.9 L1451.0,237.6 L1451.7,236.2 L1452.3,234.9 L1453.0,233.6 L1453.6,232.3 L1454.3,230.7 L1455.1,229.2 L1455.8,227.7 L1456.4,226.2 L1457.1,224.7 L1457.8,223.3 L1458.4,221.8 L1459.0,220.4 L1459.6,219.0 L1460.3,217.6 L1460.9,216.2 L1461.5,214.8 L1462.1,213.5 L1462.7,212.1 L1463.3,210.7 L1464.0,209.4 L1464.6,208.0 L1465.3,206.5 L1466.0,205.1 L1466.7,203.6 L1467.4,202.2 L1468.1,200.7 L1468.8,199.3 L1469.5,197.8 L1470.2,196.4 L1470.9,195.0 L1471.6,193.6 L1472.3,192.3 L1472.9,190.9 L1473.6,189.6 L1474.2,188.4 L1474.9,187.2 L1475.5,186.0 L1476.4,184.4 L1477.2,182.8 L1477.9,181.3 L1478.6,179.8 L1479.4,178.5 L1480.1,177.1 L1480.8,175.9 L1481.6,174.7 L1482.4,173.5 L1483.2,172.4 L1484.1,171.4 L1485.3,170.2 L1486.6,169.2 L1487.9,168.2 L1489.3,167.4 L1490.7,166.6 L1492.1,165.9 L1493.5,165.3 L1494.9,164.7 L1496.2,164.1 L1497.8,163.5 L1499.4,162.9 L1501.0,162.4 L1502.5,162.1 L1504.1,161.8 L1505.6,161.7 L1507.2,161.7 L1508.8,161.8 L1510.3,162.0 L1511.8,162.3 L1513.3,162.7 L1514.9,163.2 L1516.5,163.9 L1518.2,164.7 L1519.4,165.3 L1520.7,166.1 L1522.0,166.9 L1523.3,167.7 L1524.7,168.7 L1526.0,169.6 L1527.4,170.6 L1528.8,171.7 L1530.2,172.8 L1531.6,173.9 L1532.7,174.8 L1533.8,175.7 L1535.0,176.7 L1536.2,177.7 L1537.4,178.7 L1538.6,179.8 L1539.8,180.9 L1541.0,182.0 L1542.1,183.0 L1543.2,184.1 L1544.3,185.2 L1545.3,186.3 L1546.2,187.3 L1547.3,188.6 L1548.3,190.0 L1549.3,191.3 L1550.2,192.6 L1551.0,193.9 L1551.8,195.3 L1552.5,196.6 L1553.3,197.9 L1554.0,199.3 L1554.7,200.7 L1555.4,202.1 L1556.0,203.4 L1556.6,204.7 L1557.1,206.0 L1557.7,207.3 L1558.2,208.7 L1558.8,210.2 L1559.4,211.7 L1560.1,213.4 L1560.8,215.3 L1561.3,216.5 L1561.8,217.7 L1562.3,219.0 L1562.9,220.3 L1563.5,221.7 L1564.0,223.2 L1564.6,224.6 L1565.2,226.1 L1565.9,227.6 L1566.5,229.1 L1567.1,230.6 L1567.7,232.1 L1568.3,233.7 L1568.9,235.2 L1569.5,236.7 L1570.1,238.2 L1570.6,239.6 L1571.1,241.0 L1571.7,242.5 L1572.2,243.9 L1572.7,245.3 L1573.2,246.8 L1573.7,248.2 L1574.3,249.6 L1574.8,251.1 L1575.3,252.5 L1575.8,253.9 L1576.2,255.4 L1576.7,256.8 L1577.2,258.3 L1577.7,259.7 L1578.2,261.1 L1578.6,262.6 L1579.1,264.0 L1579.6,265.5 L1580.1,267.1 L1580.5,268.7 L1581.0,270.2 L1581.5,271.8 L1581.9,273.4 L1582.4,275.0 L1582.8,276.6 L1583.3,278.1 L1583.7,279.7 L1584.2,281.2 L1584.6,282.7 L1585.0,284.2 L1585.5,285.6 L1585.9,287.0 L1586.4,288.4 L1587.0,290.0 L1587.5,291.6 L1588.1,293.1 L1588.7,294.6 L1589.3,296.1 L1589.8,297.5 L1590.4,298.9 L1591.0,300.3 L1591.5,301.6 L1592.1,302.9 L1592.6,304.2 L1593.2,305.5 L1593.7,306.7 L1594.4,308.3 L1595.1,309.7 L1595.7,310.9 L1596.3,312.0 L1596.9,313.2 L1597.5,314.5 L1598.2,316.0 L1599.0,317.8 L1599.8,320.1 L1600.2,321.2 L1600.5,322.3 L1600.9,323.5 L1601.3,324.8 L1601.7,326.1 L1602.1,327.5 L1602.5,328.9 L1603.0,330.4 L1603.4,331.9 L1603.8,333.4 L1604.3,335.0 L1604.7,336.5 L1605.2,338.1 L1605.7,339.7 L1606.1,341.3 L1606.6,342.8 L1607.1,344.4 L1607.6,345.9 L1608.1,347.4 L1608.6,348.9 L1609.1,350.3 L1609.6,351.7 L1610.2,353.1 L1610.7,354.6 L1611.3,356.0 L1611.9,357.4 L1612.6,358.8 L1613.2,360.2 L1613.8,361.6 L1614.5,363.0 L1615.1,364.3 L1615.8,365.7 L1616.4,367.0 L1617.1,368.4 L1617.7,369.8 L1618.4,371.1 L1619.0,372.5 L1619.7,373.9 L1620.4,375.3 L1621.0,376.7 L1621.6,378.1 L1622.3,379.6 L1622.9,381.0 L1623.5,382.4 L1624.1,383.8 L1624.7,385.3 L1625.3,386.8 L1625.9,388.2 L1626.5,389.7 L1627.1,391.2 L1627.7,392.7 L1628.3,394.2 L1628.9,395.7 L1629.5,397.2 L1630.1,398.7 L1630.7,400.2 L1631.3,401.6 L1632.0,403.1 L1632.6,404.5 L1633.2,405.9 L1633.8,407.3 L1634.4,408.7 L1635.0,410.0 L1635.7,411.6 L1636.4,413.1 L1637.1,414.6 L1637.8,416.1 L1638.5,417.5 L1639.2,419.0 L1639.9,420.4 L1640.6,421.8 L1641.3,423.2 L1642.0,424.6 L1642.7,426.0 L1643.4,427.3 L1644.1,428.7 L1644.8,430.0 L1645.5,431.4 L1646.3,432.7 L1647.0,434.1 L1647.7,435.4 L1648.4,436.8 L1649.2,438.2 L1649.9,439.6 L1650.7,441.0 L1651.4,442.3 L1652.1,443.7 L1652.9,445.0 L1653.6,446.3 L1654.4,447.7 L1655.1,449.0 L1655.9,450.3 L1656.6,451.6 L1657.4,452.9 L1658.1,454.3 L1658.9,455.6 L1659.6,456.9 L1660.4,458.3 L1661.1,459.6 L1661.8,460.9 L1662.6,462.3 L1663.3,463.6 L1664.1,465.0 L1664.8,466.3 L1665.6,467.7 L1666.3,469.0 L1667.1,470.3 L1667.8,471.7 L1668.6,473.0 L1669.3,474.4 L1670.1,475.7 L1670.8,477.1 L1671.6,478.4 L1672.3,479.8 L1673.0,481.1 L1673.8,482.4 L1674.5,483.8 L1675.3,485.1 L1676.0,486.4 L1676.8,487.7 L1677.5,489.1 L1678.3,490.4 L1679.0,491.7 L1679.8,493.0 L1680.5,494.3 L1681.3,495.7 L1682.0,497.0 L1682.8,498.4 L1683.5,499.8 L1684.2,501.1 L1685.0,502.5 L1685.7,503.9 L1686.4,505.3 L1687.1,506.7 L1687.9,508.1 L1688.6,509.5 L1689.3,510.9 L1690.0,512.3 L1690.7,513.8 L1691.4,515.2 L1692.1,516.7 L1692.8,518.1 L1693.5,519.6 L1694.2,521.0 L1694.9,522.4 L1695.6,523.9 L1696.3,525.3 L1697.0,526.7 L1697.7,528.0 L1698.4,529.4 L1699.2,530.8 L1699.9,532.2 L1700.7,533.6 L1701.4,534.9 L1702.2,536.3 L1702.9,537.6 L1703.7,539.0 L1704.4,540.3 L1705.1,541.6 L1705.9,542.9 L1706.6,544.3 L1707.4,545.6 L1708.1,546.9 L1708.9,548.2 L1709.6,549.6 L1710.4,550.9 L1711.1,552.2 L1711.9,553.6 L1712.6,554.9 L1713.4,556.2 L1714.1,557.5 L1714.8,558.9 L1715.6,560.2 L1716.3,561.5 L1717.1,562.8 L1717.8,564.1 L1718.6,565.5 L1719.3,566.8 L1720.1,568.2 L1720.8,569.5 L1721.6,570.9 L1722.3,572.3 L1723.1,573.7 L1723.8,575.1 L1724.5,576.4 L1725.2,577.8 L1725.9,579.1 L1726.6,580.5 L1727.3,581.9 L1728.0,583.3 L1728.7,584.8 L1729.4,586.2 L1730.2,587.6 L1730.9,589.0 L1731.6,590.5 L1732.3,591.9 L1733.0,593.3 L1733.7,594.8 L1734.4,596.2 L1735.1,597.6 L1735.8,599.0 L1736.5,600.4 L1737.2,601.8 L1737.9,603.2 L1738.6,604.6 L1739.3,606.0 L1740.0,607.4 L1740.7,608.7 L1741.4,610.1 L1742.1,611.4 L1742.8,612.8 L1743.5,614.2 L1744.3,615.6 L1745.0,617.0 L1745.7,618.4 L1746.4,619.8 L1747.1,621.3 L1747.8,622.8 L1748.5,624.3 L1749.2,625.8 L1749.8,627.2 L1750.4,628.5 L1751.0,629.9 L1751.6,631.3 L1752.2,632.7 L1752.8,634.2 L1753.4,635.6 L1754.0,637.1 L1754.6,638.5 L1755.2,640.0 L1755.8,641.5 L1756.4,643.0 L1757.0,644.5 L1757.6,645.9 L1758.3,647.4 L1758.9,648.9 L1759.5,650.4 L1760.1,651.9 L1760.7,653.4 L1761.3,654.8 L1761.9,656.3 L1762.5,657.7 L1763.1,659.2 L1763.7,660.6 L1764.3,662.0 L1764.9,663.4 L1765.5,664.8 L1766.1,666.2 L1766.7,667.7 L1767.3,669.1 L1767.9,670.5 L1768.5,671.9 L1769.1,673.3 L1769.7,674.8 L1770.3,676.2 L1770.9,677.7 L1771.5,679.1 L1772.2,680.6 L1772.8,682.1 L1773.4,683.6 L1774.0,685.2 L1774.6,686.7 L1775.1,688.1 L1775.6,689.4 L1776.1,690.8 L1776.6,692.1 L1777.1,693.5 L1777.6,694.9 L1778.1,696.3 L1778.6,697.7 L1779.1,699.2 L1779.6,700.6 L1780.2,702.0 L1780.7,703.5 L1781.2,704.9 L1781.7,706.4 L1782.2,707.8 L1782.7,709.3 L1783.2,710.7 L1783.7,712.2 L1784.2,713.6 L1784.7,715.1 L1785.2,716.5 L1785.7,718.0 L1786.2,719.4 L1786.8,720.8 L1787.3,722.3 L1787.8,723.7 L1788.3,725.1 L1788.8,726.5 L1789.3,727.9 L1789.8,729.3 L1790.3,730.7 L1790.8,732.2 L1791.3,733.6 L1791.8,735.0 L1792.3,736.4 L1792.8,737.8 L1793.4,739.2 L1793.9,740.6 L1794.4,742.0 L1794.9,743.4 L1795.4,744.8 L1795.9,746.2 L1796.4,747.7 L1796.9,749.1 L1797.4,750.5 L1797.9,752.0 L1798.4,753.4 L1798.9,754.9 L1799.4,756.3 L1799.9,757.8 L1800.4,759.2 L1800.9,760.7 L1801.4,762.1 L1801.9,763.5 L1802.4,765.0 L1802.9,766.4 L1803.4,767.9 L1803.9,769.3 L1804.3,770.8 L1804.8,772.3 L1805.3,773.7 L1805.8,775.2 L1806.3,776.7 L1806.8,778.2 L1807.3,779.6 L1807.8,781.1 L1808.2,782.6 L1808.7,784.1 L1809.2,785.6 L1809.7,787.0 L1810.2,788.5 L1810.7,790.0 L1811.2,791.5 L1811.7,792.9 L1812.2,794.4 L1812.6,795.9 L1813.1,797.4 L1813.6,798.8 L1814.1,800.3 L1814.6,801.9 L1815.1,803.4 L1815.6,804.9 L1816.1,806.5 L1816.6,808.0 L1817.1,809.6 L1817.6,811.1 L1818.1,812.6 L1818.6,814.2 L1819.1,815.7 L1819.6,817.2 L1820.1,818.7 L1820.6,820.2 L1821.1,821.7 L1821.6,823.2 L1822.1,824.6 L1822.6,826.0 L1823.0,827.4 L1823.5,828.8 L1824.0,830.1 L1824.4,831.4 L1824.9,832.7 L1825.3,833.9 L1826.0,835.7 L1826.6,837.4 L1827.2,839.1 L1827.8,840.7 L1828.4,842.3 L1829.0,843.8 L1829.6,845.3 L1830.2,846.8 L1830.8,848.2 L1831.3,849.6 L1831.9,851.0 L1832.4,852.3 L1833.0,853.6 L1833.5,854.8 L1834.0,856.0 L1834.5,857.1 L1835.0,858.3 L1835.5,859.3 L1836.4,861.4 L1837.4,863.2 L1838.3,865.0 L1839.2,866.5 L1840.1,867.9 L1840.9,869.2 L1841.5,870.3 L1842.1,871.2 L1842.6,872.0" fill="none" stroke="#000" stroke-width="3.7" stroke-linejoin="round"/>
<path d="M361.0,1261.0 L362.6,1261.0 L364.1,1261.0 L365.6,1261.0 L367.2,1261.0 L368.8,1261.0 L370.3,1261.0 L371.9,1261.0 L373.4,1261.0 L374.9,1261.0 L376.5,1261.0 L378.1,1261.0 L379.6,1261.0 L381.1,1261.0 L382.7,1261.0 L384.2,1261.0 L385.8,1261.0 L387.4,1261.0 L388.9,1261.0 L390.4,1261.0 L392.0,1261.0 M416.0,1261.0 L417.5,1261.0 L419.0,1261.0 L420.5,1261.0 L422.0,1261.0 L423.5,1261.0 L425.0,1261.0 L426.5,1261.0 L428.0,1261.0 L429.5,1261.0 L431.0,1261.0 L432.5,1261.0 L434.0,1261.0 L435.5,1261.0 L437.0,1261.0 L438.5,1261.0 L440.0,1261.0 L441.5,1261.0 L443.0,1261.0 L444.5,1261.0 L446.0,1261.0 M470.0,1260.9 L471.5,1260.9 L473.0,1260.8 L474.5,1260.8 L476.0,1260.8 L477.5,1260.8 L479.0,1260.8 L480.5,1260.8 L482.0,1260.8 L483.5,1260.7 L485.0,1260.7 L486.5,1260.7 L488.0,1260.7 L489.5,1260.7 L491.0,1260.6 L492.5,1260.6 L494.0,1260.6 L495.5,1260.6 L497.0,1260.5 M520.0,1260.0 L521.6,1259.9 L523.1,1259.8 L524.7,1259.8 L526.2,1259.7 L527.8,1259.7 L529.4,1259.6 L530.9,1259.5 L532.5,1259.5 L534.1,1259.4 L535.6,1259.3 L537.2,1259.3 L538.8,1259.2 L540.3,1259.1 L541.9,1259.1 L543.4,1259.0 L545.0,1258.9 M568.0,1257.9 L569.5,1257.8 L571.0,1257.7 L572.5,1257.7 L574.0,1257.6 L575.5,1257.5 L577.0,1257.4 L578.5,1257.3 L580.0,1257.3 L581.5,1257.2 L583.0,1257.1 L584.5,1257.0 L586.0,1256.9 L587.5,1256.8 L589.0,1256.7 L590.5,1256.6 L592.0,1256.5 M614.5,1253.8 L616.0,1253.6 L617.6,1253.5 L619.1,1253.3 L620.6,1253.2 L622.2,1253.1 L623.7,1252.9 L625.2,1252.8 L626.8,1252.6 L628.3,1252.5 L629.8,1252.3 L631.3,1252.2 L632.9,1252.0 L634.4,1251.7 L635.9,1251.5 L637.5,1251.2 L639.0,1250.9 M658.2,1246.2 L659.7,1245.8 L661.3,1245.3 L662.8,1244.9 L664.3,1244.4 L665.9,1243.9 L667.4,1243.4 L668.9,1242.9 L670.5,1242.3 L672.0,1241.7 L673.5,1241.0 L675.0,1240.4 L676.6,1239.6 L678.1,1238.9 L679.6,1238.1 L681.2,1237.3 L682.7,1236.5 M698.7,1227.1 L700.2,1226.2 L701.7,1225.3 L703.2,1224.4 L704.8,1223.6 L706.3,1222.7 L707.8,1221.8 L709.3,1220.8 L710.8,1219.9 L712.4,1218.9 L713.9,1217.9 L715.4,1216.8 L716.9,1215.7 M723.3,1210.5 L725.0,1209.2 L726.6,1207.8 L728.3,1206.4 L729.9,1204.9 L731.6,1203.5 L733.2,1202.1 L734.9,1200.7 L736.5,1199.3 L738.2,1197.9 M745.6,1191.8 L747.2,1190.5 L748.7,1189.2 L750.3,1187.9 L751.8,1186.7 L753.4,1185.4 L754.9,1184.2 L756.5,1182.9 L758.0,1181.7 L759.6,1180.5 L761.1,1179.2 L762.7,1178.0 M770.2,1172.4 L771.7,1171.3 L773.2,1170.2 L774.7,1169.2 L776.2,1168.2 L777.7,1167.2 L779.2,1166.2 L780.8,1165.3 L782.3,1164.3 L783.8,1163.4 L785.3,1162.6 L786.8,1161.7 L788.3,1160.9 M797.9,1156.3 L799.4,1155.6 L801.0,1155.0 L802.5,1154.5 L804.1,1153.9 L805.6,1153.4 L807.2,1153.0 L808.7,1152.5 L810.3,1152.1 L811.8,1151.7 L813.4,1151.3 L814.9,1151.0 M825.6,1148.9 L827.1,1148.7 L828.6,1148.4 L830.1,1148.2 L831.6,1147.9 L833.1,1147.7 L834.7,1147.5 L836.2,1147.2 L837.7,1147.0 L839.2,1146.8 L840.7,1146.6 L842.2,1146.4 L843.7,1146.2 M854.4,1144.9 L856.0,1144.7 L857.5,1144.6 L859.1,1144.4 L860.6,1144.2 L862.2,1144.0 L863.7,1143.8 L865.3,1143.6 L866.8,1143.3 L868.4,1143.1 L869.9,1142.9 L871.5,1142.7 L873.0,1142.4 L874.6,1142.2 M887.4,1140.2 L889.0,1140.0 L890.6,1139.8 L892.2,1139.5 L893.8,1139.3 L895.4,1139.1 L897.0,1138.9 L898.6,1138.7 L900.2,1138.5 L901.8,1138.3 L903.4,1138.1 L905.0,1137.9 L906.6,1137.7 M919.4,1136.1 L921.0,1135.9 L922.6,1135.8 L924.2,1135.6 L925.8,1135.4 L927.4,1135.2 L929.0,1135.0 L930.6,1134.8 L932.2,1134.6 L933.8,1134.4 L935.4,1134.2 L937.0,1134.0 L938.6,1133.9 L940.2,1133.7 L941.8,1133.5 M956.7,1131.7 L958.3,1131.5 L959.8,1131.3 L961.4,1131.1 L962.9,1130.9 L964.5,1130.7 L966.0,1130.5 L967.6,1130.2 L969.1,1130.0 L970.7,1129.8 L972.2,1129.5 L973.8,1129.2 M981.8,1127.8 L983.4,1127.6 L984.9,1127.3 L986.5,1127.1 L988.0,1126.9 L989.6,1126.7 L991.1,1126.5 L992.7,1126.3 L994.2,1126.2 L995.8,1126.1 L997.3,1126.0 L998.9,1125.9 M1005.8,1125.7 L1007.4,1125.7 L1009.0,1125.7 L1010.6,1125.8 L1012.2,1125.8 L1013.8,1125.8 L1015.4,1125.8 L1017.0,1125.9 L1018.6,1125.9 L1020.2,1126.0 L1021.8,1126.0 M1027.2,1126.1 L1028.9,1126.1 L1030.5,1126.1 L1032.2,1126.1 L1033.8,1126.0 L1035.5,1126.0 L1037.1,1125.9 L1038.8,1125.8 L1040.4,1125.7 L1042.1,1125.5 M1047.4,1124.8 L1049.1,1124.5 L1050.7,1124.1 L1052.4,1123.8 L1054.0,1123.4 L1055.7,1123.0 L1057.3,1122.6 L1059.0,1122.2 L1060.6,1121.9 L1062.3,1121.5 M1069.8,1120.2 L1071.4,1120.0 L1073.0,1119.8 L1074.6,1119.6 L1076.2,1119.4 L1077.8,1119.2 L1079.4,1119.1 L1081.0,1118.9 L1082.6,1118.8 L1084.2,1118.7 L1085.8,1118.6 M1093.3,1118.2 L1094.9,1118.1 L1096.5,1118.0 L1098.1,1118.0 L1099.7,1117.9 L1101.3,1117.9 L1102.9,1117.8 L1104.5,1117.8 L1106.1,1117.7 L1107.7,1117.7 L1109.3,1117.7 M1117.8,1117.5 L1119.4,1117.4 L1121.0,1117.4 L1122.6,1117.4 L1124.2,1117.3 L1125.8,1117.3 L1127.4,1117.3 L1129.0,1117.2 L1130.6,1117.2 L1132.2,1117.2 L1133.8,1117.2 M1143.4,1117.0 L1144.9,1116.9 L1146.4,1116.9 L1147.9,1116.9 L1149.4,1116.9 L1150.9,1116.8 L1152.5,1116.8 L1154.0,1116.8 L1155.5,1116.8 L1157.0,1116.7 L1158.5,1116.7 L1160.0,1116.7 L1161.5,1116.7 M1169.0,1116.6 L1170.5,1116.6 L1172.0,1116.5 L1173.5,1116.5 L1175.0,1116.5 L1176.5,1116.5 L1178.0,1116.5 L1179.6,1116.4 L1181.1,1116.4 L1182.6,1116.4 L1184.1,1116.4 L1185.6,1116.3 L1187.1,1116.3 M1196.7,1116.2 L1198.2,1116.1 L1199.7,1116.1 L1201.2,1116.1 L1202.7,1116.1 L1204.2,1116.1 L1205.8,1116.0 L1207.3,1116.0 L1208.8,1116.0 L1210.3,1116.0 L1211.8,1115.9 L1213.3,1115.9 L1214.8,1115.9 M1224.4,1115.7 L1226.0,1115.7 L1227.5,1115.7 L1229.1,1115.6 L1230.6,1115.6 L1232.2,1115.5 L1233.8,1115.5 L1235.3,1115.5 L1236.9,1115.4 L1238.5,1115.4 L1240.0,1115.3 L1241.6,1115.3 L1243.1,1115.2 L1244.7,1115.1 M1255.3,1114.5 L1256.8,1114.4 L1258.3,1114.2 L1259.8,1114.1 L1261.3,1114.0 L1262.8,1113.8 L1264.3,1113.6 L1265.9,1113.5 L1267.4,1113.3 L1268.9,1113.1 L1270.4,1112.9 L1271.9,1112.7 L1273.4,1112.5 M1286.2,1110.7 L1287.8,1110.4 L1289.3,1110.1 L1290.9,1109.9 L1292.5,1109.6 L1294.0,1109.3 L1295.6,1109.1 L1297.2,1108.8 L1298.7,1108.5 L1300.3,1108.3 L1301.9,1108.0 L1303.4,1107.7 L1305.0,1107.4 M1318.0,1104.5 L1319.6,1104.1 L1321.1,1103.7 L1322.7,1103.2 L1324.3,1102.7 L1325.8,1102.2 L1327.4,1101.7 L1329.0,1101.2 L1330.6,1100.7 L1332.1,1100.1 L1333.7,1099.6 L1335.3,1099.0 L1336.8,1098.4 L1338.4,1097.8 M1352.2,1092.2 L1353.8,1091.5 L1355.4,1090.8 L1357.0,1090.1 L1358.6,1089.4 L1360.2,1088.6 L1361.8,1087.9 L1363.4,1087.2 L1365.0,1086.4 L1366.6,1085.6 L1368.2,1084.8 L1369.8,1084.0 L1371.4,1083.2 L1373.0,1082.4 M1387.7,1074.4 L1389.2,1073.5 L1390.8,1072.7 L1392.3,1071.8 L1393.8,1070.9 L1395.3,1070.1 L1396.9,1069.2 L1398.4,1068.3 L1399.9,1067.4 L1401.4,1066.6 L1403.0,1065.7 L1404.5,1064.8 L1406.0,1063.9 L1407.5,1063.1 L1409.1,1062.1 L1410.6,1061.2 M1425.8,1051.0 L1427.3,1049.8 L1428.9,1048.6 L1430.4,1047.4 L1432.0,1046.2 L1433.5,1044.9 L1435.1,1043.7 L1436.6,1042.4 L1438.1,1041.1 L1439.7,1039.8 L1441.2,1038.6 L1442.8,1037.3 L1444.3,1036.0 L1445.9,1034.7 L1447.4,1033.4 M1465.1,1018.4 L1466.7,1017.0 L1468.2,1015.7 L1469.8,1014.4 L1471.3,1013.0 L1472.9,1011.7 L1474.5,1010.3 L1476.0,1009.0 L1477.6,1007.7 L1479.1,1006.4 L1480.7,1005.1 L1482.3,1003.9 L1483.8,1002.8 L1485.4,1001.7 L1486.9,1000.6 L1488.5,999.6 M1506.8,989.6 L1508.3,988.9 L1509.9,988.2 L1511.4,987.6 L1513.0,987.0 L1514.5,986.4 L1516.0,985.9 L1517.6,985.4 L1519.1,984.9 L1520.6,984.4 L1522.2,983.9 L1523.7,983.4 L1525.2,982.9 L1526.8,982.5 L1528.3,982.0 L1529.9,981.5 L1531.4,981.0 M1551.2,975.1 L1552.8,974.8 L1554.4,974.5 L1556.0,974.3 L1557.5,974.1 L1559.1,974.0 L1560.7,973.8 L1562.3,973.7 L1563.9,973.6 L1565.5,973.6 L1567.1,973.6 L1568.7,973.6 L1570.2,973.7 L1571.8,973.8 L1573.4,974.0 L1575.0,974.2 L1576.6,974.5 M1595.6,982.9 L1597.1,983.7 L1598.6,984.3 L1600.2,985.0 L1601.7,985.6 L1603.2,986.3 L1604.7,986.9 L1606.3,987.5 L1607.8,988.1 L1609.3,988.7 L1610.8,989.3 L1612.3,989.9 L1613.9,990.5 L1615.4,991.1 L1616.9,991.7 L1618.4,992.3 L1620.0,993.0 L1621.5,993.6 L1623.0,994.3 M1645.1,1005.3 L1646.6,1006.1 L1648.2,1006.8 L1649.8,1007.6 L1651.3,1008.4 L1652.8,1009.2 L1654.4,1009.9 L1656.0,1010.7 L1657.5,1011.5 L1659.0,1012.2 L1660.6,1013.0 L1662.1,1013.8 L1663.7,1014.5 L1665.2,1015.3 L1666.8,1016.1 L1668.3,1016.9 L1669.9,1017.7 L1671.5,1018.5 L1673.0,1019.3 M1696.0,1031.9 L1697.5,1032.8 L1699.0,1033.7 L1700.5,1034.6 L1702.1,1035.5 L1703.6,1036.4 L1705.1,1037.4 L1706.6,1038.3 L1708.1,1039.3 L1709.6,1040.3 L1711.2,1041.3 L1712.7,1042.2 L1714.2,1043.2 L1715.7,1044.2 L1717.2,1045.3 L1718.7,1046.3 L1720.2,1047.3 L1721.8,1048.4 L1723.3,1049.4 L1724.8,1050.5 L1726.3,1051.5 M1734.0,1057.0 L1735.6,1058.2 L1737.2,1059.4 L1738.8,1060.6 L1740.4,1061.8 L1742.1,1063.1 L1743.7,1064.4 L1745.3,1065.7 L1746.9,1067.0 L1748.5,1068.3 M1756.8,1075.8 L1758.5,1077.5 L1760.2,1079.2 L1761.8,1080.9 L1763.5,1082.6 L1765.2,1084.4 L1766.8,1086.3 L1768.5,1088.2 L1770.2,1090.2 M1779.6,1102.2 L1781.2,1104.3 L1782.8,1106.5 L1784.4,1108.6 L1785.9,1110.6 L1787.5,1112.7 L1789.1,1114.7 L1790.7,1116.6 L1792.3,1118.5 M1802.5,1130.2 L1804.0,1131.9 L1805.6,1133.6 L1807.1,1135.4 L1808.7,1137.1 L1810.2,1138.8 L1811.8,1140.5 L1813.3,1142.3 L1814.9,1144.0 L1816.4,1145.7 M1825.3,1154.5 L1826.9,1155.7 L1828.4,1156.9 L1830.0,1158.0 L1831.6,1159.0 L1833.2,1160.0 L1834.7,1160.9 L1836.3,1161.8 L1837.9,1162.6 L1839.4,1163.4 L1841.0,1164.2 L1842.6,1165.2" fill="none" stroke="#ff0000" stroke-width="4.9"/>
<path d="M322.0,1261.0 L323.0,1261.0 L324.0,1261.0 L325.0,1261.0 L326.0,1261.0 L327.0,1261.0 L328.0,1261.0 L329.0,1261.0 L330.0,1261.0 L331.0,1261.0 L332.0,1261.0 L333.0,1261.0 L334.0,1261.0 L335.0,1261.0 L336.0,1261.0 L337.0,1261.0 L338.0,1261.0 L339.0,1261.0 L340.0,1261.0 L341.0,1261.0 L342.0,1261.0 L343.0,1261.0 L344.0,1261.0 L345.0,1261.0 L346.0,1261.0 L347.0,1261.0 L348.0,1261.0 L349.0,1261.0 L350.0,1261.0 L351.0,1261.0 L352.0,1261.0 L353.0,1261.0 L354.0,1261.0 L355.0,1261.0 L356.0,1261.0 L357.0,1261.0 L358.0,1261.0 L359.0,1261.0 L360.0,1261.0 L361.0,1261.0 L362.0,1261.0 L363.0,1261.0 L364.0,1261.0 L365.0,1261.0 L366.0,1261.0 L367.0,1261.0 L368.0,1261.0 L369.0,1261.0 L370.0,1261.0 L371.0,1261.0 L372.0,1261.0 L373.0,1261.0 L374.0,1261.0 L375.0,1261.0 L376.0,1261.0 L377.0,1261.0 L378.0,1261.0 L379.0,1261.0 L380.0,1261.0 L381.0,1261.0 L382.0,1261.0 L383.0,1261.0 L384.0,1261.0 L385.0,1261.0 L386.0,1261.0 L387.0,1261.0 L388.0,1261.0 L389.0,1261.0 L390.0,1261.0 L391.0,1261.0 L392.0,1261.0 L393.0,1261.0 L394.0,1261.0 L395.0,1261.0 L396.0,1261.0 L397.0,1261.0 L398.0,1261.0 L399.0,1261.0 L400.0,1261.0 L401.0,1261.0 L402.0,1261.0 L403.0,1261.0 L404.0,1261.0 L405.0,1261.0 L406.0,1261.0 L407.0,1261.0 L408.0,1261.0 L409.0,1261.0 L410.0,1261.0 L411.0,1261.0 L412.0,1261.0 L413.0,1261.0 L414.0,1261.0 L415.0,1261.0 L416.0,1261.0 L417.0,1261.0 L418.0,1261.0 L419.0,1261.0 L420.0,1261.0 L421.0,1261.0 L422.0,1261.0 L423.0,1261.0 L424.0,1261.0 L425.0,1261.0 L426.0,1261.0 L427.0,1261.0 L428.0,1261.0 L429.0,1261.0 L430.0,1261.0 L431.0,1261.0 L432.0,1261.0 L433.0,1261.0 L434.0,1261.0 L435.0,1261.0 L436.0,1261.0 L437.0,1261.0 L438.0,1261.0 L439.0,1261.0 L440.0,1261.0 L441.0,1261.0 L442.0,1261.0 L443.0,1261.0 L444.0,1261.0 L445.0,1261.0 L446.0,1261.0 L447.0,1261.0 L448.0,1261.0 L449.0,1261.0 L450.0,1261.0 L451.0,1261.0 L452.0,1261.0 L453.0,1261.0 L454.0,1261.0 L455.0,1260.9 L456.0,1260.9 L457.0,1260.9 L458.0,1260.9 L459.0,1260.9 L460.0,1260.9 L461.0,1260.9 L462.0,1260.9 L463.0,1260.9 L464.0,1260.9 L465.0,1260.9 L466.0,1260.9 L467.0,1260.9 L468.0,1260.9 L469.0,1260.9 L470.0,1260.9 L471.0,1260.9 L472.0,1260.9 L473.0,1260.8 L474.0,1260.8 L475.0,1260.8 L476.0,1260.8 L477.0,1260.8 L478.0,1260.8 L479.0,1260.8 L480.0,1260.8 L481.0,1260.8 L482.0,1260.8 L483.0,1260.8 L484.0,1260.7 L485.0,1260.7 L486.0,1260.7 L487.0,1260.7 L488.0,1260.7 L489.0,1260.7 L490.0,1260.7 L491.0,1260.6 L492.0,1260.6 L493.0,1260.6 L494.0,1260.6 L495.0,1260.6 L496.0,1260.6 L497.0,1260.6 L498.0,1260.5 L499.0,1260.5 L500.0,1260.5 L501.0,1260.5 L502.0,1260.5 L503.0,1260.4 L504.0,1260.4 L505.0,1260.4 L506.0,1260.4 L507.0,1260.3 L508.0,1260.3 L509.0,1260.3 L510.0,1260.2 L511.0,1260.2 L512.0,1260.2 L513.0,1260.1 L514.0,1260.1 L515.0,1260.0 L516.0,1260.0 L517.0,1260.0 L518.0,1259.9 L519.0,1259.9 L520.0,1259.8 L521.0,1259.8 L522.0,1259.7 L523.0,1259.7 L524.0,1259.7 L525.0,1259.6 L526.0,1259.6 L527.0,1259.5 L528.0,1259.5 L529.0,1259.5 L530.0,1259.4 L531.0,1259.4 L532.0,1259.4 L533.0,1259.3 L534.0,1259.3 L535.0,1259.3 L536.0,1259.2 L537.0,1259.2 L538.0,1259.2 L539.0,1259.2 L540.0,1259.1 L541.0,1259.1 L542.0,1259.1 L543.0,1259.1 L544.0,1259.1 L545.0,1259.0 L546.0,1259.0 L547.0,1259.0 L548.0,1259.0 L549.0,1259.0 L550.0,1259.0 L551.0,1258.9 L552.0,1258.9 L553.0,1258.9 L554.0,1258.9 L555.0,1258.9 L556.0,1258.9 L557.0,1258.9 L558.0,1258.8 L559.0,1258.8 L560.0,1258.8 L561.0,1258.8 L562.0,1258.8 L563.0,1258.8 L564.0,1258.8 L565.0,1258.7 L566.0,1258.7 L567.0,1258.7 L568.0,1258.7 L569.0,1258.7 L570.0,1258.7 L571.0,1258.7 L572.0,1258.7 L573.0,1258.7 L574.0,1258.6 L575.0,1258.6 L576.0,1258.6 L577.0,1258.6 L578.0,1258.6 L579.0,1258.6 L580.0,1258.6 L581.0,1258.5 L582.0,1258.5 L583.0,1258.5 L584.0,1258.5 L585.0,1258.5 L586.0,1258.5 L587.0,1258.5 L588.0,1258.5 L589.0,1258.4 L590.0,1258.4 L591.0,1258.4 L592.0,1258.4 L593.0,1258.4 L594.0,1258.4 L595.0,1258.4 L596.0,1258.3 L597.0,1258.3 L598.0,1258.3 L599.0,1258.3 L600.0,1258.3 L601.0,1258.2 L602.0,1258.2 L603.0,1258.2 L604.0,1258.2 L605.0,1258.2 L606.0,1258.1 L607.0,1258.1 L608.0,1258.1 L609.0,1258.1 L610.0,1258.0 L611.0,1258.0 L612.0,1258.0 L613.0,1258.0 L614.0,1257.9 L615.0,1257.9 L616.0,1257.9 L617.0,1257.8 L618.0,1257.8 L619.0,1257.7 L620.0,1257.7 L621.0,1257.7 L622.0,1257.6 L623.0,1257.6 L624.0,1257.5 L625.0,1257.4 L626.0,1257.4 L627.0,1257.3 L628.0,1257.2 L629.0,1257.2 L630.0,1257.1 L631.0,1257.0 L632.0,1256.8 L633.0,1256.7 L634.0,1256.6 L635.0,1256.4 L636.0,1256.3 L637.0,1256.1 L638.0,1255.9 L639.0,1255.8 L640.0,1255.6 L641.0,1255.4 L642.0,1255.2 L643.0,1255.0 L644.0,1254.8 L645.0,1254.6 L646.0,1254.4 L647.0,1254.2 L648.0,1254.0 L649.0,1253.8 L650.0,1253.6 L651.0,1253.3 L652.0,1253.1 L653.0,1252.8 L654.0,1252.6 L655.0,1252.3 L656.0,1252.1 L657.0,1251.8 L658.0,1251.5 L659.0,1251.3 L660.0,1251.0 L661.0,1250.7 L662.0,1250.4 L663.0,1250.1 L664.0,1249.8 L665.0,1249.5 L666.0,1249.2 L667.0,1248.9 L668.0,1248.6 L669.0,1248.3 L670.0,1248.0 L671.0,1247.7 L672.0,1247.4 L673.0,1247.1 L674.0,1246.7 L675.0,1246.4 L676.0,1246.1 L677.0,1245.7 L678.0,1245.4 L679.0,1245.0 L680.0,1244.7 L681.0,1244.3 L682.0,1244.0 L683.0,1243.6 L684.0,1243.3 L685.0,1242.9 L686.0,1242.5 L687.0,1242.1 L688.0,1241.8 L689.0,1241.4 L690.0,1241.0 L691.0,1240.6 L692.0,1240.2 L693.0,1239.8 L694.0,1239.4 L695.0,1239.0 L696.0,1238.6 L697.0,1238.1 L698.0,1237.7 L699.0,1237.3 L700.0,1236.9 L701.0,1236.4 L702.0,1236.0 L703.0,1235.6 L704.0,1235.1 L705.0,1234.7 L706.0,1234.2 L707.0,1233.8 L708.0,1233.3 L709.0,1232.8 L710.0,1232.4 L711.0,1231.9 L712.0,1231.4 L713.0,1230.9 L714.0,1230.5 L715.0,1230.0 L716.0,1229.5 L717.0,1229.0 L718.0,1228.5 L719.0,1228.0 L720.0,1227.5 L721.0,1227.0 L722.0,1226.4 L723.0,1225.9 L724.0,1225.4 L725.0,1224.8 L726.0,1224.3 L727.0,1223.8 L728.0,1223.2 L729.0,1222.7 L730.0,1222.1 L731.0,1221.6 L732.0,1221.0 L733.0,1220.4 L734.0,1219.9 L735.0,1219.3 L736.0,1218.7 L737.0,1218.2 L738.0,1217.6 L739.0,1217.0 L740.0,1216.5 L741.0,1215.9 L742.0,1215.3 L743.0,1214.7 L744.0,1214.1 L745.0,1213.6 L746.0,1213.0 L747.0,1212.4 L748.0,1211.8 L749.0,1211.2 L750.0,1210.6 L751.0,1209.9 L752.0,1209.3 L753.0,1208.7 L754.0,1208.1 L755.0,1207.5 L756.0,1206.9 L757.0,1206.3 L758.0,1205.6 L759.0,1205.0 L760.0,1204.4 L761.0,1203.8 L762.0,1203.2 L763.0,1202.6 L764.0,1202.1 L765.0,1201.5 L766.0,1200.9 L767.0,1200.3 L768.0,1199.8 L769.0,1199.2 L770.0,1198.6 L771.0,1198.1 L772.0,1197.5 L773.0,1197.0 L774.0,1196.5 L775.0,1195.9 L776.0,1195.4 L777.0,1194.9 L778.0,1194.3 L779.0,1193.8 L780.0,1193.3 L781.0,1192.8 L782.0,1192.3 L783.0,1191.8 L784.0,1191.3 L785.0,1190.8 L786.0,1190.3 L787.0,1189.8 L788.0,1189.4 L789.0,1188.9 L790.0,1188.5 L791.0,1188.0 L792.0,1187.6 L793.0,1187.2 L794.0,1186.8 L795.0,1186.4 L796.0,1186.0 L797.0,1185.7 L798.0,1185.3 L799.0,1185.0 L800.0,1184.6 L801.0,1184.3 L802.0,1184.0 L803.0,1183.7 L804.0,1183.4 L805.0,1183.1 L806.0,1182.8 L807.0,1182.5 L808.0,1182.2 L809.0,1181.9 L810.0,1181.7 L811.0,1181.4 L812.0,1181.1 L813.0,1180.8 L814.0,1180.6 L815.0,1180.3 L816.0,1180.0 L817.0,1179.8 L818.0,1179.5 L819.0,1179.2 L820.0,1179.0 L821.0,1178.7 L822.0,1178.4 L823.0,1178.2 L824.0,1177.9 L825.0,1177.7 L826.0,1177.4 L827.0,1177.2 L828.0,1176.9 L829.0,1176.7 L830.0,1176.4 L831.0,1176.2 L832.0,1175.9 L833.0,1175.7 L834.0,1175.4 L835.0,1175.2 L836.0,1174.9 L837.0,1174.7 L838.0,1174.5 L839.0,1174.2 L840.0,1174.0 L841.0,1173.7 L842.0,1173.5 L843.0,1173.2 L844.0,1173.0 L845.0,1172.7 L846.0,1172.5 L847.0,1172.2 L848.0,1172.0 L849.0,1171.8 L850.0,1171.5 L851.0,1171.3 L852.0,1171.0 L853.0,1170.8 L854.0,1170.5 L855.0,1170.3 L856.0,1170.0 L857.0,1169.8 L858.0,1169.6 L859.0,1169.3 L860.0,1169.1 L861.0,1168.8 L862.0,1168.6 L863.0,1168.4 L864.0,1168.1 L865.0,1167.9 L866.0,1167.6 L867.0,1167.4 L868.0,1167.1 L869.0,1166.9 L870.0,1166.6 L871.0,1166.4 L872.0,1166.2 L873.0,1165.9 L874.0,1165.7 L875.0,1165.4 L876.0,1165.2 L877.0,1164.9 L878.0,1164.7 L879.0,1164.4 L880.0,1164.2 L881.0,1163.9 L882.0,1163.7 L883.0,1163.4 L884.0,1163.1 L885.0,1162.9 L886.0,1162.6 L887.0,1162.4 L888.0,1162.1 L889.0,1161.8 L890.0,1161.6 L891.0,1161.3 L892.0,1161.0 L893.0,1160.8 L894.0,1160.5 L895.0,1160.2 L896.0,1160.0 L897.0,1159.7 L898.0,1159.4 L899.0,1159.1 L900.0,1158.8 L901.0,1158.6 L902.0,1158.3 L903.0,1158.0 L904.0,1157.7 L905.0,1157.4 L906.0,1157.1 L907.0,1156.8 L908.0,1156.5 L909.0,1156.2 L910.0,1155.9 L911.0,1155.6 L912.0,1155.3 L913.0,1155.0 L914.0,1154.7 L915.0,1154.4 L916.0,1154.1 L917.0,1153.8 L918.0,1153.5 L919.0,1153.2 L920.0,1152.9 L921.0,1152.6 L922.0,1152.3 L923.0,1152.0 L924.0,1151.7 L925.0,1151.4 L926.0,1151.1 L927.0,1150.8 L928.0,1150.5 L929.0,1150.2 L930.0,1149.9 L931.0,1149.5 L932.0,1149.2 L933.0,1148.9 L934.0,1148.6 L935.0,1148.3 L936.0,1148.0 L937.0,1147.7 L938.0,1147.4 L939.0,1147.1 L940.0,1146.8 L941.0,1146.5 L942.0,1146.2 L943.0,1145.9 L944.0,1145.6 L945.0,1145.3 L946.0,1145.0 L947.0,1144.7 L948.0,1144.3 L949.0,1144.0 L950.0,1143.7 L951.0,1143.4 L952.0,1143.1 L953.0,1142.8 L954.0,1142.5 L955.0,1142.2 L956.0,1141.9 L957.0,1141.6 L958.0,1141.3 L959.0,1141.0 L960.0,1140.7 L961.0,1140.4 L962.0,1140.1 L963.0,1139.8 L964.0,1139.5 L965.0,1139.2 L966.0,1138.9 L967.0,1138.6 L968.0,1138.3 L969.0,1138.0 L970.0,1137.7 L971.0,1137.4 L972.0,1137.2 L973.0,1136.9 L974.0,1136.6 L975.0,1136.3 L976.0,1136.0 L977.0,1135.7 L978.0,1135.4 L979.0,1135.2 L980.0,1134.9 L981.0,1134.6 L982.0,1134.3 L983.0,1134.0 L984.0,1133.8 L985.0,1133.5 L986.0,1133.2 L987.0,1132.9 L988.0,1132.7 L989.0,1132.4 L990.0,1132.1 L991.0,1131.9 L992.0,1131.6 L993.0,1131.4 L994.0,1131.2 L995.0,1130.9 L996.0,1130.7 L997.0,1130.5 L998.0,1130.2 L999.0,1130.0 L1000.0,1129.8 L1001.0,1129.6 L1002.0,1129.4 L1003.0,1129.2 L1004.0,1129.0 L1005.0,1128.8 L1006.0,1128.6 L1007.0,1128.4 L1008.0,1128.2 L1009.0,1128.0 L1010.0,1127.8 L1011.0,1127.7 L1012.0,1127.5 L1013.0,1127.3 L1014.0,1127.2 L1015.0,1127.0 L1016.0,1126.8 L1017.0,1126.7 L1018.0,1126.5 L1019.0,1126.4 L1020.0,1126.2 L1021.0,1126.1 L1022.0,1126.0 L1023.0,1125.9 L1024.0,1125.8 L1025.0,1125.7 L1026.0,1125.7 L1027.0,1125.6 L1028.0,1125.6 L1029.0,1125.5 L1030.0,1125.5 L1031.0,1125.5 L1032.0,1125.4 L1033.0,1125.4 L1034.0,1125.3 L1035.0,1125.2 L1036.0,1125.1 L1037.0,1125.0 L1038.0,1124.9 L1039.0,1124.7 L1040.0,1124.5 L1041.0,1124.2 L1042.0,1124.0 L1043.0,1123.7 L1044.0,1123.4 L1045.0,1123.1 L1046.0,1122.8 L1047.0,1122.5 L1048.0,1122.1 L1049.0,1121.8 L1050.0,1121.4 L1051.0,1121.1 L1052.0,1120.7 L1053.0,1120.3 L1054.0,1120.0 L1055.0,1119.6 L1056.0,1119.2 L1057.0,1118.8 L1058.0,1118.5 L1059.0,1118.1 L1060.0,1117.7 L1061.0,1117.3 L1062.0,1117.0 L1063.0,1116.6 L1064.0,1116.2 L1065.0,1115.9 L1066.0,1115.5 L1067.0,1115.2 L1068.0,1114.8 L1069.0,1114.4 L1070.0,1114.1 L1071.0,1113.7 L1072.0,1113.3 L1073.0,1112.9 L1074.0,1112.6 L1075.0,1112.2 L1076.0,1111.8 L1077.0,1111.5 L1078.0,1111.1 L1079.0,1110.7 L1080.0,1110.4 L1081.0,1110.0 L1082.0,1109.7 L1083.0,1109.3 L1084.0,1109.0 L1085.0,1108.7 L1086.0,1108.3 L1087.0,1108.0 L1088.0,1107.7 L1089.0,1107.4 L1090.0,1107.1 L1091.0,1106.8 L1092.0,1106.6 L1093.0,1106.3 L1094.0,1106.1 L1095.0,1105.8 L1096.0,1105.6 L1097.0,1105.4 L1098.0,1105.1 L1099.0,1104.9 L1100.0,1104.7 L1101.0,1104.5 L1102.0,1104.3 L1103.0,1104.1 L1104.0,1103.9 L1105.0,1103.7 L1106.0,1103.5 L1107.0,1103.4 L1108.0,1103.2 L1109.0,1103.0 L1110.0,1102.8 L1111.0,1102.7 L1112.0,1102.5 L1113.0,1102.3 L1114.0,1102.1 L1115.0,1102.0 L1116.0,1101.8 L1117.0,1101.6 L1118.0,1101.5 L1119.0,1101.3 L1120.0,1101.1 L1121.0,1101.0 L1122.0,1100.8 L1123.0,1100.6 L1124.0,1100.5 L1125.0,1100.3 L1126.0,1100.2 L1127.0,1100.0 L1128.0,1099.9 L1129.0,1099.7 L1130.0,1099.6 L1131.0,1099.4 L1132.0,1099.3 L1133.0,1099.1 L1134.0,1099.0 L1135.0,1098.8 L1136.0,1098.7 L1137.0,1098.6 L1138.0,1098.4 L1139.0,1098.3 L1140.0,1098.2 L1141.0,1098.0 L1142.0,1097.9 L1143.0,1097.8 L1144.0,1097.7 L1145.0,1097.6 L1146.0,1097.4 L1147.0,1097.3 L1148.0,1097.2 L1149.0,1097.1 L1150.0,1097.0 L1151.0,1096.9 L1152.0,1096.8 L1153.0,1096.7 L1154.0,1096.6 L1155.0,1096.5 L1156.0,1096.4 L1157.0,1096.3 L1158.0,1096.2 L1159.0,1096.1 L1160.0,1096.0 L1161.0,1095.9 L1162.0,1095.8 L1163.0,1095.8 L1164.0,1095.7 L1165.0,1095.6 L1166.0,1095.5 L1167.0,1095.4 L1168.0,1095.4 L1169.0,1095.3 L1170.0,1095.2 L1171.0,1095.2 L1172.0,1095.1 L1173.0,1095.0 L1174.0,1095.0 L1175.0,1094.9 L1176.0,1094.9 L1177.0,1094.8 L1178.0,1094.8 L1179.0,1094.7 L1180.0,1094.7 L1181.0,1094.6 L1182.0,1094.6 L1183.0,1094.5 L1184.0,1094.5 L1185.0,1094.5 L1186.0,1094.4 L1187.0,1094.4 L1188.0,1094.3 L1189.0,1094.3 L1190.0,1094.3 L1191.0,1094.2 L1192.0,1094.2 L1193.0,1094.1 L1194.0,1094.1 L1195.0,1094.0 L1196.0,1094.0 L1197.0,1094.0 L1198.0,1093.9 L1199.0,1093.9 L1200.0,1093.8 L1201.0,1093.8 L1202.0,1093.7 L1203.0,1093.7 L1204.0,1093.7 L1205.0,1093.6 L1206.0,1093.6 L1207.0,1093.5 L1208.0,1093.5 L1209.0,1093.5 L1210.0,1093.4 L1211.0,1093.4 L1212.0,1093.3 L1213.0,1093.3 L1214.0,1093.3 L1215.0,1093.2 L1216.0,1093.2 L1217.0,1093.2 L1218.0,1093.1 L1219.0,1093.1 L1220.0,1093.1 L1221.0,1093.0 L1222.0,1093.0 L1223.0,1093.0 L1224.0,1093.0 L1225.0,1093.0 L1226.0,1092.9 L1227.0,1092.9 L1228.0,1092.9 L1229.0,1092.9 L1230.0,1092.9 L1231.0,1092.9 L1232.0,1092.9 L1233.0,1092.9 L1234.0,1093.0 L1235.0,1093.0 L1236.0,1093.0 L1237.0,1093.1 L1238.0,1093.1 L1239.0,1093.1 L1240.0,1093.2 L1241.0,1093.2 L1242.0,1093.2 L1243.0,1093.3 L1244.0,1093.3 L1245.0,1093.3 L1246.0,1093.4 L1247.0,1093.4 L1248.0,1093.4 L1249.0,1093.4 L1250.0,1093.4 L1251.0,1093.4 L1252.0,1093.4 L1253.0,1093.4 L1254.0,1093.4 L1255.0,1093.4 L1256.0,1093.3 L1257.0,1093.3 L1258.0,1093.2 L1259.0,1093.2 L1260.0,1093.1 L1261.0,1093.0 L1262.0,1092.9 L1263.0,1092.8 L1264.0,1092.7 L1265.0,1092.6 L1266.0,1092.5 L1267.0,1092.4 L1268.0,1092.3 L1269.0,1092.1 L1270.0,1092.0 L1271.0,1091.9 L1272.0,1091.7 L1273.0,1091.6 L1274.0,1091.5 L1275.0,1091.3 L1276.0,1091.2 L1277.0,1091.0 L1278.0,1090.8 L1279.0,1090.7 L1280.0,1090.5 L1281.0,1090.4 L1282.0,1090.2 L1283.0,1090.0 L1284.0,1089.9 L1285.0,1089.7 L1286.0,1089.6 L1287.0,1089.4 L1288.0,1089.2 L1289.0,1089.0 L1290.0,1088.9 L1291.0,1088.7 L1292.0,1088.5 L1293.0,1088.3 L1294.0,1088.1 L1295.0,1087.9 L1296.0,1087.7 L1297.0,1087.5 L1298.0,1087.3 L1299.0,1087.1 L1300.0,1086.9 L1301.0,1086.6 L1302.0,1086.4 L1303.0,1086.1 L1304.0,1085.9 L1305.0,1085.6 L1306.0,1085.4 L1307.0,1085.1 L1308.0,1084.8 L1309.0,1084.5 L1310.0,1084.3 L1311.0,1084.0 L1312.0,1083.7 L1313.0,1083.4 L1314.0,1083.1 L1315.0,1082.7 L1316.0,1082.4 L1317.0,1082.1 L1318.0,1081.8 L1319.0,1081.4 L1320.0,1081.1 L1321.0,1080.7 L1322.0,1080.4 L1323.0,1080.0 L1324.0,1079.6 L1325.0,1079.2 L1326.0,1078.8 L1327.0,1078.4 L1328.0,1078.0 L1329.0,1077.6 L1330.0,1077.2 L1331.0,1076.7 L1332.0,1076.3 L1333.0,1075.8 L1334.0,1075.4 L1335.0,1074.9 L1336.0,1074.4 L1337.0,1073.9 L1338.0,1073.4 L1339.0,1072.9 L1340.0,1072.4 L1341.0,1071.9 L1342.0,1071.3 L1343.0,1070.8 L1344.0,1070.2 L1345.0,1069.7 L1346.0,1069.1 L1347.0,1068.6 L1348.0,1068.0 L1349.0,1067.4 L1350.0,1066.8 L1351.0,1066.2 L1352.0,1065.6 L1353.0,1065.0 L1354.0,1064.4 L1355.0,1063.8 L1356.0,1063.2 L1357.0,1062.6 L1358.0,1061.9 L1359.0,1061.3 L1360.0,1060.7 L1361.0,1060.0 L1362.0,1059.3 L1363.0,1058.7 L1364.0,1058.0 L1365.0,1057.3 L1366.0,1056.7 L1367.0,1056.0 L1368.0,1055.3 L1369.0,1054.6 L1370.0,1053.9 L1371.0,1053.2 L1372.0,1052.5 L1373.0,1051.7 L1374.0,1051.0 L1375.0,1050.3 L1376.0,1049.6 L1377.0,1048.8 L1378.0,1048.1 L1379.0,1047.4 L1380.0,1046.6 L1381.0,1045.9 L1382.0,1045.1 L1383.0,1044.4 L1384.0,1043.6 L1385.0,1042.8 L1386.0,1042.1 L1387.0,1041.3 L1388.0,1040.5 L1389.0,1039.7 L1390.0,1038.9 L1391.0,1038.1 L1392.0,1037.3 L1393.0,1036.5 L1394.0,1035.7 L1395.0,1034.9 L1396.0,1034.1 L1397.0,1033.3 L1398.0,1032.5 L1399.0,1031.7 L1400.0,1030.9 L1401.0,1030.1 L1402.0,1029.2 L1403.0,1028.4 L1404.0,1027.6 L1405.0,1026.8 L1406.0,1026.0 L1407.0,1025.2 L1408.0,1024.4 L1409.0,1023.6 L1410.0,1022.8 L1411.0,1022.0 L1412.0,1021.2 L1413.0,1020.4 L1414.0,1019.6 L1415.0,1018.8 L1416.0,1018.0 L1417.0,1017.2 L1418.0,1016.4 L1419.0,1015.6 L1420.0,1014.9 L1421.0,1014.1 L1422.0,1013.3 L1423.0,1012.5 L1424.0,1011.7 L1425.0,1010.9 L1426.0,1010.1 L1427.0,1009.3 L1428.0,1008.4 L1429.0,1007.6 L1430.0,1006.8 L1431.0,1006.0 L1432.0,1005.2 L1433.0,1004.4 L1434.0,1003.5 L1435.0,1002.7 L1436.0,1001.9 L1437.0,1001.0 L1438.0,1000.2 L1439.0,999.4 L1440.0,998.5 L1441.0,997.7 L1442.0,996.8 L1443.0,995.9 L1444.0,995.1 L1445.0,994.2 L1446.0,993.4 L1447.0,992.5 L1448.0,991.7 L1449.0,990.8 L1450.0,989.9 L1451.0,989.1 L1452.0,988.2 L1453.0,987.4 L1454.0,986.5 L1455.0,985.7 L1456.0,984.8 L1457.0,984.0 L1458.0,983.2 L1459.0,982.4 L1460.0,981.5 L1461.0,980.7 L1462.0,979.9 L1463.0,979.1 L1464.0,978.4 L1465.0,977.6 L1466.0,976.8 L1467.0,976.1 L1468.0,975.3 L1469.0,974.6 L1470.0,973.8 L1471.0,973.1 L1472.0,972.3 L1473.0,971.5 L1474.0,970.8 L1475.0,970.0 L1476.0,969.3 L1477.0,968.6 L1478.0,967.9 L1479.0,967.2 L1480.0,966.6 L1481.0,965.9 L1482.0,965.4 L1483.0,964.8 L1484.0,964.3 L1485.0,963.8 L1486.0,963.4 L1487.0,963.0 L1488.0,962.6 L1489.0,962.2 L1490.0,961.9 L1491.0,961.6 L1492.0,961.3 L1493.0,961.0 L1494.0,960.8 L1495.0,960.5 L1496.0,960.3 L1497.0,960.1 L1498.0,959.9 L1499.0,959.7 L1500.0,959.5 L1501.0,959.4 L1502.0,959.3 L1503.0,959.1 L1504.0,959.1 L1505.0,959.0 L1506.0,959.0 L1507.0,959.0 L1508.0,959.0 L1509.0,959.0 L1510.0,959.1 L1511.0,959.1 L1512.0,959.2 L1513.0,959.2 L1514.0,959.3 L1515.0,959.4 L1516.0,959.5 L1517.0,959.6 L1518.0,959.7 L1519.0,959.8 L1520.0,959.9 L1521.0,960.1 L1522.0,960.2 L1523.0,960.3 L1524.0,960.4 L1525.0,960.5 L1526.0,960.6 L1527.0,960.7 L1528.0,960.8 L1529.0,961.0 L1530.0,961.1 L1531.0,961.2 L1532.0,961.3 L1533.0,961.3 L1534.0,961.4 L1535.0,961.5 L1536.0,961.6 L1537.0,961.7 L1538.0,961.7 L1539.0,961.8 L1540.0,961.8 L1541.0,961.9 L1542.0,961.9 L1543.0,962.0 L1544.0,962.1 L1545.0,962.1 L1546.0,962.2 L1547.0,962.3 L1548.0,962.3 L1549.0,962.4 L1550.0,962.5 L1551.0,962.6 L1552.0,962.8 L1553.0,962.9 L1554.0,963.0 L1555.0,963.2 L1556.0,963.3 L1557.0,963.5 L1558.0,963.6 L1559.0,963.8 L1560.0,964.0 L1561.0,964.2 L1562.0,964.3 L1563.0,964.5 L1564.0,964.7 L1565.0,964.9 L1566.0,965.1 L1567.0,965.4 L1568.0,965.6 L1569.0,965.8 L1570.0,966.1 L1571.0,966.4 L1572.0,966.6 L1573.0,966.9 L1574.0,967.3 L1575.0,967.6 L1576.0,967.9 L1577.0,968.3 L1578.0,968.7 L1579.0,969.1 L1580.0,969.5 L1581.0,970.0 L1582.0,970.5 L1583.0,971.0 L1584.0,971.5 L1585.0,972.0 L1586.0,972.5 L1587.0,973.1 L1588.0,973.6 L1589.0,974.2 L1590.0,974.8 L1591.0,975.3 L1592.0,975.9 L1593.0,976.5 L1594.0,977.0 L1595.0,977.6 L1596.0,978.1 L1597.0,978.7 L1598.0,979.2 L1599.0,979.8 L1600.0,980.3 L1601.0,980.8 L1602.0,981.4 L1603.0,981.9 L1604.0,982.4 L1605.0,983.0 L1606.0,983.5 L1607.0,984.0 L1608.0,984.6 L1609.0,985.1 L1610.0,985.6 L1611.0,986.2 L1612.0,986.7 L1613.0,987.3 L1614.0,987.8 L1615.0,988.4 L1616.0,988.9 L1617.0,989.5 L1618.0,990.1 L1619.0,990.7 L1620.0,991.3 L1621.0,991.9 L1622.0,992.5 L1623.0,993.2 L1624.0,993.8 L1625.0,994.4 L1626.0,995.1 L1627.0,995.8 L1628.0,996.4 L1629.0,997.1 L1630.0,997.8 L1631.0,998.5 L1632.0,999.2 L1633.0,999.9 L1634.0,1000.6 L1635.0,1001.3 L1636.0,1002.0 L1637.0,1002.8 L1638.0,1003.5 L1639.0,1004.2 L1640.0,1004.9 L1641.0,1005.6 L1642.0,1006.4 L1643.0,1007.1 L1644.0,1007.8 L1645.0,1008.5 L1646.0,1009.2 L1647.0,1009.9 L1648.0,1010.6 L1649.0,1011.3 L1650.0,1012.0 L1651.0,1012.7 L1652.0,1013.3 L1653.0,1014.0 L1654.0,1014.7 L1655.0,1015.3 L1656.0,1016.0 L1657.0,1016.7 L1658.0,1017.3 L1659.0,1018.0 L1660.0,1018.7 L1661.0,1019.4 L1662.0,1020.0 L1663.0,1020.7 L1664.0,1021.4 L1665.0,1022.1 L1666.0,1022.9 L1667.0,1023.6 L1668.0,1024.3 L1669.0,1025.1 L1670.0,1025.8 L1671.0,1026.6 L1672.0,1027.4 L1673.0,1028.3 L1674.0,1029.1 L1675.0,1030.0 L1676.0,1030.8 L1677.0,1031.7 L1678.0,1032.6 L1679.0,1033.6 L1680.0,1034.5 L1681.0,1035.5 L1682.0,1036.4 L1683.0,1037.4 L1684.0,1038.4 L1685.0,1039.4 L1686.0,1040.3 L1687.0,1041.3 L1688.0,1042.3 L1689.0,1043.3 L1690.0,1044.3 L1691.0,1045.3 L1692.0,1046.2 L1693.0,1047.2 L1694.0,1048.1 L1695.0,1049.1 L1696.0,1050.0 L1697.0,1050.9 L1698.0,1051.8 L1699.0,1052.7 L1700.0,1053.6 L1701.0,1054.4 L1702.0,1055.3 L1703.0,1056.1 L1704.0,1056.9 L1705.0,1057.8 L1706.0,1058.6 L1707.0,1059.4 L1708.0,1060.2 L1709.0,1061.0 L1710.0,1061.8 L1711.0,1062.6 L1712.0,1063.4 L1713.0,1064.1 L1714.0,1064.9 L1715.0,1065.7 L1716.0,1066.5 L1717.0,1067.3 L1718.0,1068.0 L1719.0,1068.8 L1720.0,1069.6 L1721.0,1070.4 L1722.0,1071.2 L1723.0,1072.0 L1724.0,1072.7 L1725.0,1073.5 L1726.0,1074.3 L1727.0,1075.1 L1728.0,1075.9 L1729.0,1076.7 L1730.0,1077.4 L1731.0,1078.2 L1732.0,1079.0 L1733.0,1079.9 L1734.0,1080.7 L1735.0,1081.6 L1736.0,1082.4 L1737.0,1083.3 L1738.0,1084.2 L1739.0,1085.1 L1740.0,1086.1 L1741.0,1087.1 L1742.0,1088.0 L1743.0,1089.0 L1744.0,1090.0 L1745.0,1091.1 L1746.0,1092.1 L1747.0,1093.2 L1748.0,1094.3 L1749.0,1095.4 L1750.0,1096.5 L1751.0,1097.6 L1752.0,1098.8 L1753.0,1100.0 L1754.0,1101.1 L1755.0,1102.3 L1756.0,1103.6 L1757.0,1104.8 L1758.0,1106.0 L1759.0,1107.2 L1760.0,1108.3 L1761.0,1109.5 L1762.0,1110.7 L1763.0,1111.8 L1764.0,1112.9 L1765.0,1114.0 L1766.0,1115.2 L1767.0,1116.2 L1768.0,1117.3 L1769.0,1118.4 L1770.0,1119.5 L1771.0,1120.7 L1772.0,1121.8 L1773.0,1123.0 L1774.0,1124.2 L1775.0,1125.4 L1776.0,1126.6 L1777.0,1127.9 L1778.0,1129.2 L1779.0,1130.5 L1780.0,1131.8 L1781.0,1133.2 L1782.0,1134.5 L1783.0,1135.7 L1784.0,1137.0 L1785.0,1138.1 L1786.0,1139.2 L1787.0,1140.3 L1788.0,1141.3 L1789.0,1142.1 L1790.0,1143.0 L1791.0,1143.7 L1792.0,1144.4 L1793.0,1145.0 L1794.0,1145.6 L1795.0,1146.1 L1796.0,1146.6 L1797.0,1147.1 L1798.0,1147.6 L1799.0,1148.1 L1800.0,1148.6 L1801.0,1149.2 L1802.0,1149.8 L1803.0,1150.5 L1804.0,1151.3 L1805.0,1152.3 L1806.0,1153.3 L1807.0,1154.5 L1808.0,1155.8 L1809.0,1157.2 L1810.0,1158.6 L1811.0,1160.1 L1812.0,1161.6 L1813.0,1163.1 L1814.0,1164.5 L1815.0,1166.0 L1816.0,1167.4 L1817.0,1168.8 L1818.0,1170.2 L1819.0,1171.5 L1820.0,1172.8 L1821.0,1174.0 L1822.0,1175.2 L1823.0,1176.3 L1824.0,1177.3 L1825.0,1178.2 L1826.0,1179.0 L1827.0,1179.7 L1828.0,1180.3 L1829.0,1180.8 L1830.0,1181.2 L1831.0,1181.6 L1832.0,1181.9 L1833.0,1182.2 L1834.0,1182.5 L1835.0,1182.7 L1836.0,1182.9 L1837.0,1183.1 L1838.0,1183.3 L1839.0,1183.5 L1840.0,1183.7 L1841.0,1183.9 L1842.0,1184.1 L1842.6,1184.3" fill="none" stroke="#0000f0" stroke-width="4.7" stroke-linejoin="round"/>
<path d="M322.0,1260.8 L323.0,1260.8 L324.0,1260.8 L325.0,1260.8 L326.0,1260.8 L327.0,1260.8 L328.0,1260.8 L329.0,1260.8 L330.0,1260.8 L331.0,1260.8 L332.0,1260.8 L333.0,1260.8 L334.0,1260.8 L335.0,1260.8 L336.0,1260.8 L337.0,1260.8 L338.0,1260.8 L339.0,1260.8 L340.0,1260.8 L341.0,1260.8 L342.0,1260.8 L343.0,1260.8 L344.0,1260.8 L345.0,1260.8 L346.0,1260.8 L347.0,1260.8 L348.0,1260.8 L349.0,1260.8 L350.0,1260.8 L351.0,1260.8 L352.0,1260.8 L353.0,1260.8 L354.0,1260.7 L355.0,1260.7 L356.0,1260.7 L357.0,1260.7 L358.0,1260.7 L359.0,1260.7 L360.0,1260.7 L361.0,1260.7 L362.0,1260.7 L363.0,1260.7 L364.0,1260.7 L365.0,1260.7 L366.0,1260.7 L367.0,1260.7 L368.0,1260.7 L369.0,1260.7 L370.0,1260.7 L371.0,1260.7 L372.0,1260.7 L373.0,1260.7 L374.0,1260.7 L375.0,1260.7 L376.0,1260.7 L377.0,1260.7 L378.0,1260.7 L379.0,1260.7 L380.0,1260.7 L381.0,1260.7 L382.0,1260.7 L383.0,1260.7 L384.0,1260.7 L385.0,1260.7 L386.0,1260.7 L387.0,1260.7 L388.0,1260.7 L389.0,1260.7 L390.0,1260.7 L391.0,1260.7 L392.0,1260.7 L393.0,1260.7 L394.0,1260.7 L395.0,1260.7 L396.0,1260.7 L397.0,1260.7 L398.0,1260.7 L399.0,1260.7 L400.0,1260.7 L401.0,1260.7 L402.0,1260.7 L403.0,1260.7 L404.0,1260.7 L405.0,1260.7 L406.0,1260.6 L407.0,1260.6 L408.0,1260.6 L409.0,1260.6 L410.0,1260.6 L411.0,1260.6 L412.0,1260.6 L413.0,1260.6 L414.0,1260.6 L415.0,1260.6 L416.0,1260.6 L417.0,1260.6 L418.0,1260.6 L419.0,1260.6 L420.0,1260.6 L421.0,1260.6 L422.0,1260.6 L423.0,1260.6 L424.0,1260.6 L425.0,1260.6 L426.0,1260.6 L427.0,1260.6 L428.0,1260.6 L429.0,1260.6 L430.0,1260.6 L431.0,1260.6 L432.0,1260.5 L433.0,1260.5 L434.0,1260.5 L435.0,1260.5 L436.0,1260.5 L437.0,1260.5 L438.0,1260.5 L439.0,1260.5 L440.0,1260.5 L441.0,1260.5 L442.0,1260.5 L443.0,1260.5 L444.0,1260.5 L445.0,1260.5 L446.0,1260.5 L447.0,1260.4 L448.0,1260.4 L449.0,1260.4 L450.0,1260.4 L451.0,1260.4 L452.0,1260.4 L453.0,1260.4 L454.0,1260.4 L455.0,1260.4 L456.0,1260.4 L457.0,1260.3 L458.0,1260.3 L459.0,1260.3 L460.0,1260.3 L461.0,1260.3 L462.0,1260.3 L463.0,1260.3 L464.0,1260.3 L465.0,1260.2 L466.0,1260.2 L467.0,1260.2 L468.0,1260.2 L469.0,1260.2 L470.0,1260.2 L471.0,1260.1 L472.0,1260.1 L473.0,1260.1 L474.0,1260.1 L475.0,1260.1 L476.0,1260.1 L477.0,1260.0 L478.0,1260.0 L479.0,1260.0 L480.0,1260.0 L481.0,1260.0 L482.0,1259.9 L483.0,1259.9 L484.0,1259.9 L485.0,1259.9 L486.0,1259.9 L487.0,1259.8 L488.0,1259.8 L489.0,1259.8 L490.0,1259.8 L491.0,1259.7 L492.0,1259.7 L493.0,1259.7 L494.0,1259.7 L495.0,1259.6 L496.0,1259.6 L497.0,1259.6 L498.0,1259.6 L499.0,1259.5 L500.0,1259.5 L501.0,1259.5 L502.0,1259.5 L503.0,1259.4 L504.0,1259.4 L505.0,1259.4 L506.0,1259.4 L507.0,1259.3 L508.0,1259.3 L509.0,1259.3 L510.0,1259.3 L511.0,1259.2 L512.0,1259.2 L513.0,1259.2 L514.0,1259.2 L515.0,1259.2 L516.0,1259.1 L517.0,1259.1 L518.0,1259.1 L519.0,1259.1 L520.0,1259.0 L521.0,1259.0 L522.0,1259.0 L523.0,1258.9 L524.0,1258.9 L525.0,1258.8 L526.0,1258.8 L527.0,1258.8 L528.0,1258.7 L529.0,1258.7 L530.0,1258.6 L531.0,1258.5 L532.0,1258.5 L533.0,1258.4 L534.0,1258.3 L535.0,1258.3 L536.0,1258.2 L537.0,1258.1 L538.0,1258.0 L539.0,1257.9 L540.0,1257.9 L541.0,1257.8 L542.0,1257.7 L543.0,1257.6 L544.0,1257.5 L545.0,1257.4 L546.0,1257.3 L547.0,1257.2 L548.0,1257.1 L549.0,1257.0 L550.0,1256.9 L551.0,1256.8 L552.0,1256.7 L553.0,1256.6 L554.0,1256.4 L555.0,1256.3 L556.0,1256.2 L557.0,1256.1 L558.0,1256.0 L559.0,1255.9 L560.0,1255.8 L561.0,1255.6 L562.0,1255.5 L563.0,1255.4 L564.0,1255.3 L565.0,1255.1 L566.0,1255.0 L567.0,1254.9 L568.0,1254.8 L569.0,1254.6 L570.0,1254.5 L571.0,1254.4 L572.0,1254.3 L573.0,1254.1 L574.0,1254.0 L575.0,1253.9 L576.0,1253.7 L577.0,1253.6 L578.0,1253.4 L579.0,1253.3 L580.0,1253.2 L581.0,1253.0 L582.0,1252.9 L583.0,1252.7 L584.0,1252.6 L585.0,1252.4 L586.0,1252.3 L587.0,1252.1 L588.0,1252.0 L589.0,1251.8 L590.0,1251.6 L591.0,1251.5 L592.0,1251.3 L593.0,1251.1 L594.0,1251.0 L595.0,1250.8 L596.0,1250.6 L597.0,1250.4 L598.0,1250.2 L599.0,1250.0 L600.0,1249.8 L601.0,1249.6 L602.0,1249.4 L603.0,1249.2 L604.0,1249.0 L605.0,1248.7 L606.0,1248.5 L607.0,1248.2 L608.0,1247.9 L609.0,1247.6 L610.0,1247.3 L611.0,1247.0 L612.0,1246.6 L613.0,1246.3 L614.0,1245.9 L615.0,1245.6 L616.0,1245.2 L617.0,1244.8 L618.0,1244.5 L619.0,1244.1 L620.0,1243.7 L621.0,1243.3 L622.0,1242.9 L623.0,1242.4 L624.0,1242.0 L625.0,1241.6 L626.0,1241.1 L627.0,1240.7 L628.0,1240.2 L629.0,1239.7 L630.0,1239.2 L631.0,1238.7 L632.0,1238.2 L633.0,1237.7 L634.0,1237.1 L635.0,1236.6 L636.0,1236.0 L637.0,1235.4 L638.0,1234.8 L639.0,1234.1 L640.0,1233.5 L641.0,1232.8 L642.0,1232.1 L643.0,1231.4 L644.0,1230.6 L645.0,1229.9 L646.0,1229.1 L647.0,1228.3 L648.0,1227.5 L649.0,1226.7 L650.0,1225.9 L651.0,1225.0 L652.0,1224.2 L653.0,1223.3 L654.0,1222.4 L655.0,1221.5 L656.0,1220.6 L657.0,1219.7 L658.0,1218.7 L659.0,1217.8 L660.0,1216.8 L661.0,1215.8 L662.0,1214.8 L663.0,1213.8 L664.0,1212.7 L665.0,1211.7 L666.0,1210.5 L667.0,1209.4 L668.0,1208.2 L669.0,1207.0 L670.0,1205.7 L671.0,1204.4 L672.0,1203.0 L673.0,1201.5 L674.0,1200.0 L675.0,1198.5 L676.0,1196.9 L677.0,1195.3 L678.0,1193.6 L679.0,1192.0 L680.0,1190.3 L681.0,1188.7 L682.0,1187.0 L683.0,1185.4 L684.0,1183.8 L685.0,1182.1 L686.0,1180.5 L687.0,1178.8 L688.0,1177.1 L689.0,1175.5 L690.0,1173.8 L691.0,1172.1 L692.0,1170.4 L693.0,1168.7 L694.0,1167.0 L695.0,1165.4 L696.0,1163.7 L697.0,1162.0 L698.0,1160.4 L699.0,1158.7 L700.0,1157.1 L701.0,1155.5 L702.0,1153.8 L703.0,1152.2 L704.0,1150.6 L705.0,1149.0 L706.0,1147.3 L707.0,1145.7 L708.0,1144.1 L709.0,1142.5 L710.0,1140.9 L711.0,1139.2 L712.0,1137.6 L713.0,1136.0 L714.0,1134.4 L715.0,1132.7 L716.0,1131.1 L717.0,1129.5 L718.0,1127.9 L719.0,1126.2 L720.0,1124.6 L721.0,1123.0 L722.0,1121.3 L723.0,1119.7 L724.0,1118.0 L725.0,1116.4 L726.0,1114.8 L727.0,1113.1 L728.0,1111.5 L729.0,1109.8 L730.0,1108.2 L731.0,1106.6 L732.0,1105.0 L733.0,1103.4 L734.0,1101.7 L735.0,1100.1 L736.0,1098.6 L737.0,1097.0 L738.0,1095.4 L739.0,1093.8 L740.0,1092.3 L741.0,1090.7 L742.0,1089.2 L743.0,1087.6 L744.0,1086.1 L745.0,1084.5 L746.0,1083.0 L747.0,1081.5 L748.0,1079.9 L749.0,1078.4 L750.0,1076.9 L751.0,1075.4 L752.0,1074.0 L753.0,1072.5 L754.0,1071.1 L755.0,1069.6 L756.0,1068.2 L757.0,1066.8 L758.0,1065.4 L759.0,1064.0 L760.0,1062.7 L761.0,1061.3 L762.0,1060.0 L763.0,1058.7 L764.0,1057.3 L765.0,1056.0 L766.0,1054.8 L767.0,1053.5 L768.0,1052.2 L769.0,1051.0 L770.0,1049.7 L771.0,1048.5 L772.0,1047.3 L773.0,1046.1 L774.0,1044.9 L775.0,1043.7 L776.0,1042.6 L777.0,1041.4 L778.0,1040.3 L779.0,1039.2 L780.0,1038.1 L781.0,1037.1 L782.0,1036.0 L783.0,1035.0 L784.0,1034.1 L785.0,1033.1 L786.0,1032.2 L787.0,1031.3 L788.0,1030.4 L789.0,1029.6 L790.0,1028.7 L791.0,1027.9 L792.0,1027.1 L793.0,1026.3 L794.0,1025.5 L795.0,1024.7 L796.0,1023.9 L797.0,1023.2 L798.0,1022.4 L799.0,1021.7 L800.0,1021.0 L801.0,1020.3 L802.0,1019.7 L803.0,1019.0 L804.0,1018.4 L805.0,1017.8 L806.0,1017.2 L807.0,1016.6 L808.0,1016.1 L809.0,1015.5 L810.0,1015.0 L811.0,1014.4 L812.0,1013.9 L813.0,1013.4 L814.0,1012.9 L815.0,1012.4 L816.0,1011.9 L817.0,1011.4 L818.0,1010.9 L819.0,1010.4 L820.0,1009.9 L821.0,1009.4 L822.0,1008.9 L823.0,1008.4 L824.0,1007.9 L825.0,1007.4 L826.0,1006.9 L827.0,1006.5 L828.0,1006.0 L829.0,1005.5 L830.0,1005.0 L831.0,1004.5 L832.0,1004.0 L833.0,1003.5 L834.0,1003.0 L835.0,1002.5 L836.0,1002.0 L837.0,1001.5 L838.0,1001.0 L839.0,1000.5 L840.0,1000.0 L841.0,999.5 L842.0,999.0 L843.0,998.5 L844.0,998.0 L845.0,997.5 L846.0,997.0 L847.0,996.5 L848.0,995.9 L849.0,995.4 L850.0,994.9 L851.0,994.4 L852.0,993.9 L853.0,993.3 L854.0,992.8 L855.0,992.3 L856.0,991.8 L857.0,991.3 L858.0,990.7 L859.0,990.2 L860.0,989.7 L861.0,989.2 L862.0,988.6 L863.0,988.1 L864.0,987.6 L865.0,987.1 L866.0,986.5 L867.0,986.0 L868.0,985.5 L869.0,984.9 L870.0,984.4 L871.0,983.9 L872.0,983.4 L873.0,982.8 L874.0,982.3 L875.0,981.8 L876.0,981.3 L877.0,980.7 L878.0,980.2 L879.0,979.7 L880.0,979.1 L881.0,978.6 L882.0,978.1 L883.0,977.6 L884.0,977.0 L885.0,976.5 L886.0,976.0 L887.0,975.4 L888.0,974.9 L889.0,974.4 L890.0,973.9 L891.0,973.3 L892.0,972.8 L893.0,972.3 L894.0,971.8 L895.0,971.2 L896.0,970.7 L897.0,970.2 L898.0,969.7 L899.0,969.2 L900.0,968.6 L901.0,968.1 L902.0,967.6 L903.0,967.1 L904.0,966.6 L905.0,966.1 L906.0,965.5 L907.0,965.0 L908.0,964.5 L909.0,964.0 L910.0,963.5 L911.0,963.0 L912.0,962.5 L913.0,961.9 L914.0,961.4 L915.0,960.9 L916.0,960.4 L917.0,959.9 L918.0,959.4 L919.0,958.9 L920.0,958.4 L921.0,957.8 L922.0,957.3 L923.0,956.8 L924.0,956.3 L925.0,955.8 L926.0,955.3 L927.0,954.7 L928.0,954.2 L929.0,953.7 L930.0,953.2 L931.0,952.7 L932.0,952.1 L933.0,951.6 L934.0,951.1 L935.0,950.5 L936.0,950.0 L937.0,949.5 L938.0,948.9 L939.0,948.4 L940.0,947.8 L941.0,947.3 L942.0,946.7 L943.0,946.2 L944.0,945.6 L945.0,945.0 L946.0,944.4 L947.0,943.9 L948.0,943.3 L949.0,942.7 L950.0,942.0 L951.0,941.4 L952.0,940.8 L953.0,940.2 L954.0,939.5 L955.0,938.8 L956.0,938.2 L957.0,937.5 L958.0,936.8 L959.0,936.1 L960.0,935.4 L961.0,934.7 L962.0,934.0 L963.0,933.3 L964.0,932.6 L965.0,931.9 L966.0,931.2 L967.0,930.5 L968.0,929.7 L969.0,929.0 L970.0,928.4 L971.0,927.7 L972.0,927.0 L973.0,926.4 L974.0,925.7 L975.0,925.1 L976.0,924.5 L977.0,923.9 L978.0,923.3 L979.0,922.8 L980.0,922.3 L981.0,921.7 L982.0,921.3 L983.0,920.8 L984.0,920.3 L985.0,919.9 L986.0,919.4 L987.0,919.0 L988.0,918.6 L989.0,918.2 L990.0,917.8 L991.0,917.4 L992.0,917.1 L993.0,916.7 L994.0,916.3 L995.0,915.9 L996.0,915.6 L997.0,915.2 L998.0,914.8 L999.0,914.4 L1000.0,914.1 L1001.0,913.7 L1002.0,913.3 L1003.0,913.0 L1004.0,912.6 L1005.0,912.3 L1006.0,911.9 L1007.0,911.6 L1008.0,911.2 L1009.0,910.9 L1010.0,910.5 L1011.0,910.2 L1012.0,909.9 L1013.0,909.5 L1014.0,909.2 L1015.0,908.8 L1016.0,908.5 L1017.0,908.2 L1018.0,907.8 L1019.0,907.5 L1020.0,907.1 L1021.0,906.8 L1022.0,906.4 L1023.0,906.0 L1024.0,905.7 L1025.0,905.3 L1026.0,904.9 L1027.0,904.5 L1028.0,904.1 L1029.0,903.8 L1030.0,903.4 L1031.0,903.0 L1032.0,902.6 L1033.0,902.2 L1034.0,901.9 L1035.0,901.5 L1036.0,901.2 L1037.0,900.9 L1038.0,900.6 L1039.0,900.3 L1040.0,900.0 L1041.0,899.7 L1042.0,899.5 L1043.0,899.3 L1044.0,899.0 L1045.0,898.8 L1046.0,898.6 L1047.0,898.4 L1048.0,898.2 L1049.0,898.1 L1050.0,897.9 L1051.0,897.7 L1052.0,897.5 L1053.0,897.3 L1054.0,897.2 L1055.0,897.0 L1056.0,896.8 L1057.0,896.6 L1058.0,896.4 L1059.0,896.2 L1060.0,896.0 L1061.0,895.8 L1062.0,895.6 L1063.0,895.4 L1064.0,895.2 L1065.0,894.9 L1066.0,894.7 L1067.0,894.4 L1068.0,894.1 L1069.0,893.8 L1070.0,893.5 L1071.0,893.2 L1072.0,892.8 L1073.0,892.5 L1074.0,892.1 L1075.0,891.8 L1076.0,891.4 L1077.0,891.1 L1078.0,890.7 L1079.0,890.4 L1080.0,890.1 L1081.0,889.8 L1082.0,889.4 L1083.0,889.1 L1084.0,888.9 L1085.0,888.6 L1086.0,888.3 L1087.0,888.1 L1088.0,887.9 L1089.0,887.6 L1090.0,887.4 L1091.0,887.2 L1092.0,887.1 L1093.0,886.9 L1094.0,886.7 L1095.0,886.6 L1096.0,886.5 L1097.0,886.3 L1098.0,886.2 L1099.0,886.1 L1100.0,886.0 L1101.0,885.9 L1102.0,885.8 L1103.0,885.7 L1104.0,885.6 L1105.0,885.5 L1106.0,885.4 L1107.0,885.3 L1108.0,885.2 L1109.0,885.1 L1110.0,885.0 L1111.0,884.9 L1112.0,884.9 L1113.0,884.8 L1114.0,884.7 L1115.0,884.6 L1116.0,884.5 L1117.0,884.5 L1118.0,884.4 L1119.0,884.3 L1120.0,884.2 L1121.0,884.1 L1122.0,884.1 L1123.0,884.0 L1124.0,883.9 L1125.0,883.8 L1126.0,883.7 L1127.0,883.6 L1128.0,883.5 L1129.0,883.4 L1130.0,883.3 L1131.0,883.2 L1132.0,883.1 L1133.0,883.0 L1134.0,882.9 L1135.0,882.8 L1136.0,882.7 L1137.0,882.6 L1138.0,882.5 L1139.0,882.3 L1140.0,882.2 L1141.0,882.1 L1142.0,882.0 L1143.0,881.9 L1144.0,881.8 L1145.0,881.7 L1146.0,881.5 L1147.0,881.4 L1148.0,881.3 L1149.0,881.2 L1150.0,881.1 L1151.0,881.0 L1152.0,880.9 L1153.0,880.8 L1154.0,880.7 L1155.0,880.6 L1156.0,880.5 L1157.0,880.4 L1158.0,880.3 L1159.0,880.2 L1160.0,880.1 L1161.0,880.1 L1162.0,880.0 L1163.0,879.9 L1164.0,879.8 L1165.0,879.8 L1166.0,879.7 L1167.0,879.6 L1168.0,879.6 L1169.0,879.5 L1170.0,879.5 L1171.0,879.5 L1172.0,879.4 L1173.0,879.4 L1174.0,879.4 L1175.0,879.4 L1176.0,879.4 L1177.0,879.3 L1178.0,879.3 L1179.0,879.3 L1180.0,879.3 L1181.0,879.3 L1182.0,879.3 L1183.0,879.3 L1184.0,879.3 L1185.0,879.3 L1186.0,879.3 L1187.0,879.3 L1188.0,879.4 L1189.0,879.4 L1190.0,879.4 L1191.0,879.4 L1192.0,879.4 L1193.0,879.4 L1194.0,879.4 L1195.0,879.4 L1196.0,879.4 L1197.0,879.4 L1198.0,879.3 L1199.0,879.3 L1200.0,879.3 L1201.0,879.3 L1202.0,879.2 L1203.0,879.2 L1204.0,879.1 L1205.0,879.1 L1206.0,879.0 L1207.0,878.9 L1208.0,878.8 L1209.0,878.7 L1210.0,878.6 L1211.0,878.4 L1212.0,878.2 L1213.0,878.1 L1214.0,877.9 L1215.0,877.7 L1216.0,877.5 L1217.0,877.3 L1218.0,877.1 L1219.0,876.9 L1220.0,876.7 L1221.0,876.5 L1222.0,876.3 L1223.0,876.2 L1224.0,876.1 L1225.0,876.0 L1226.0,876.1 L1227.0,876.1 L1228.0,876.3 L1229.0,876.6 L1230.0,876.9 L1231.0,877.3 L1232.0,877.7 L1233.0,878.2 L1234.0,878.6 L1235.0,878.9 L1236.0,879.2 L1237.0,879.4 L1238.0,879.5 L1239.0,879.6 L1240.0,879.7 L1241.0,879.7 L1242.0,879.7 L1243.0,879.7 L1244.0,879.7 L1245.0,879.7 L1246.0,879.7 L1247.0,879.7 L1248.0,879.6 L1249.0,879.6 L1250.0,879.6 L1251.0,879.5 L1252.0,879.5 L1253.0,879.4 L1254.0,879.4 L1255.0,879.3 L1256.0,879.3 L1257.0,879.2 L1258.0,879.2 L1259.0,879.1 L1260.0,879.0 L1261.0,879.0 L1262.0,878.9 L1263.0,878.8 L1264.0,878.7 L1265.0,878.6 L1266.0,878.6 L1267.0,878.5 L1268.0,878.4 L1269.0,878.3 L1270.0,878.2 L1271.0,878.1 L1272.0,878.0 L1273.0,877.9 L1274.0,877.8 L1275.0,877.7 L1276.0,877.6 L1277.0,877.4 L1278.0,877.3 L1279.0,877.2 L1280.0,877.0 L1281.0,876.9 L1282.0,876.8 L1283.0,876.6 L1284.0,876.4 L1285.0,876.3 L1286.0,876.1 L1287.0,875.9 L1288.0,875.7 L1289.0,875.5 L1290.0,875.3 L1291.0,875.1 L1292.0,874.9 L1293.0,874.7 L1294.0,874.5 L1295.0,874.3 L1296.0,874.0 L1297.0,873.8 L1298.0,873.6 L1299.0,873.3 L1300.0,873.1 L1301.0,872.8 L1302.0,872.5 L1303.0,872.3 L1304.0,872.0 L1305.0,871.7 L1306.0,871.4 L1307.0,871.1 L1308.0,870.8 L1309.0,870.5 L1310.0,870.2 L1311.0,869.9 L1312.0,869.6 L1313.0,869.2 L1314.0,868.9 L1315.0,868.5 L1316.0,868.1 L1317.0,867.8 L1318.0,867.4 L1319.0,867.0 L1320.0,866.6 L1321.0,866.2 L1322.0,865.7 L1323.0,865.3 L1324.0,864.9 L1325.0,864.4 L1326.0,863.9 L1327.0,863.5 L1328.0,863.0 L1329.0,862.5 L1330.0,862.0 L1331.0,861.5 L1332.0,861.0 L1333.0,860.5 L1334.0,860.0 L1335.0,859.4 L1336.0,858.9 L1337.0,858.4 L1338.0,857.8 L1339.0,857.3 L1340.0,856.8 L1341.0,856.2 L1342.0,855.7 L1343.0,855.1 L1344.0,854.6 L1345.0,854.0 L1346.0,853.4 L1347.0,852.9 L1348.0,852.3 L1349.0,851.7 L1350.0,851.1 L1351.0,850.6 L1352.0,850.0 L1353.0,849.4 L1354.0,848.8 L1355.0,848.2 L1356.0,847.6 L1357.0,847.0 L1358.0,846.3 L1359.0,845.7 L1360.0,845.1 L1361.0,844.5 L1362.0,843.9 L1363.0,843.3 L1364.0,842.7 L1365.0,842.1 L1366.0,841.4 L1367.0,840.8 L1368.0,840.2 L1369.0,839.6 L1370.0,839.0 L1371.0,838.4 L1372.0,837.8 L1373.0,837.2 L1374.0,836.6 L1375.0,836.0 L1376.0,835.4 L1377.0,834.8 L1378.0,834.2 L1379.0,833.6 L1380.0,833.0 L1381.0,832.3 L1382.0,831.7 L1383.0,831.0 L1384.0,830.3 L1385.0,829.7 L1386.0,829.0 L1387.0,828.3 L1388.0,827.7 L1389.0,827.0 L1390.0,826.3 L1391.0,825.6 L1392.0,825.0 L1393.0,824.3 L1394.0,823.6 L1395.0,823.0 L1396.0,822.3 L1397.0,821.7 L1398.0,821.1 L1399.0,820.4 L1400.0,819.8 L1401.0,819.2 L1402.0,818.6 L1403.0,818.0 L1404.0,817.5 L1405.0,816.9 L1406.0,816.4 L1407.0,815.9 L1408.0,815.4 L1409.0,814.9 L1410.0,814.4 L1411.0,813.9 L1412.0,813.5 L1413.0,813.0 L1414.0,812.6 L1415.0,812.2 L1416.0,811.7 L1417.0,811.3 L1418.0,810.9 L1419.0,810.5 L1420.0,810.0 L1421.0,809.6 L1422.0,809.2 L1423.0,808.8 L1424.0,808.3 L1425.0,807.9 L1426.0,807.4 L1427.0,807.0 L1428.0,806.5 L1429.0,806.0 L1430.0,805.5 L1431.0,805.0 L1432.0,804.5 L1433.0,804.0 L1434.0,803.5 L1435.0,802.9 L1436.0,802.4 L1437.0,801.8 L1438.0,801.3 L1439.0,800.7 L1440.0,800.2 L1441.0,799.6 L1442.0,799.1 L1443.0,798.6 L1444.0,798.1 L1445.0,797.5 L1446.0,797.0 L1447.0,796.5 L1448.0,796.0 L1449.0,795.5 L1450.0,795.0 L1451.0,794.6 L1452.0,794.1 L1453.0,793.6 L1454.0,793.1 L1455.0,792.7 L1456.0,792.2 L1457.0,791.7 L1458.0,791.3 L1459.0,790.9 L1460.0,790.4 L1461.0,790.0 L1462.0,789.6 L1463.0,789.3 L1464.0,788.9 L1465.0,788.6 L1466.0,788.3 L1467.0,788.1 L1468.0,787.8 L1469.0,787.6 L1470.0,787.5 L1471.0,787.4 L1472.0,787.3 L1473.0,787.2 L1474.0,787.1 L1475.0,787.1 L1476.0,787.0 L1477.0,786.9 L1478.0,786.8 L1479.0,786.8 L1480.0,786.7 L1481.0,786.6 L1482.0,786.5 L1483.0,786.5 L1484.0,786.5 L1485.0,786.5 L1486.0,786.6 L1487.0,786.8 L1488.0,787.0 L1489.0,787.2 L1490.0,787.5 L1491.0,787.9 L1492.0,788.2 L1493.0,788.6 L1494.0,789.0 L1495.0,789.5 L1496.0,789.9 L1497.0,790.4 L1498.0,790.8 L1499.0,791.3 L1500.0,791.9 L1501.0,792.4 L1502.0,792.9 L1503.0,793.5 L1504.0,794.1 L1505.0,794.6 L1506.0,795.2 L1507.0,795.8 L1508.0,796.4 L1509.0,797.0 L1510.0,797.6 L1511.0,798.2 L1512.0,798.8 L1513.0,799.4 L1514.0,800.0 L1515.0,800.6 L1516.0,801.3 L1517.0,801.9 L1518.0,802.5 L1519.0,803.1 L1520.0,803.7 L1521.0,804.4 L1522.0,805.0 L1523.0,805.7 L1524.0,806.3 L1525.0,806.9 L1526.0,807.6 L1527.0,808.2 L1528.0,808.9 L1529.0,809.5 L1530.0,810.2 L1531.0,810.9 L1532.0,811.5 L1533.0,812.2 L1534.0,812.9 L1535.0,813.6 L1536.0,814.2 L1537.0,814.9 L1538.0,815.6 L1539.0,816.3 L1540.0,817.0 L1541.0,817.8 L1542.0,818.5 L1543.0,819.2 L1544.0,819.9 L1545.0,820.7 L1546.0,821.4 L1547.0,822.2 L1548.0,822.9 L1549.0,823.7 L1550.0,824.5 L1551.0,825.3 L1552.0,826.1 L1553.0,827.0 L1554.0,827.9 L1555.0,828.8 L1556.0,829.7 L1557.0,830.7 L1558.0,831.7 L1559.0,832.8 L1560.0,833.8 L1561.0,834.9 L1562.0,836.0 L1563.0,837.0 L1564.0,838.1 L1565.0,839.2 L1566.0,840.3 L1567.0,841.4 L1568.0,842.5 L1569.0,843.7 L1570.0,844.8 L1571.0,845.9 L1572.0,847.0 L1573.0,848.0 L1574.0,849.1 L1575.0,850.2 L1576.0,851.2 L1577.0,852.3 L1578.0,853.3 L1579.0,854.3 L1580.0,855.3 L1581.0,856.4 L1582.0,857.4 L1583.0,858.4 L1584.0,859.3 L1585.0,860.3 L1586.0,861.3 L1587.0,862.2 L1588.0,863.2 L1589.0,864.1 L1590.0,865.1 L1591.0,866.0 L1592.0,866.9 L1593.0,867.9 L1594.0,868.8 L1595.0,869.7 L1596.0,870.7 L1597.0,871.6 L1598.0,872.5 L1599.0,873.4 L1600.0,874.3 L1601.0,875.2 L1602.0,876.1 L1603.0,877.0 L1604.0,877.9 L1605.0,878.8 L1606.0,879.6 L1607.0,880.5 L1608.0,881.3 L1609.0,882.2 L1610.0,883.0 L1611.0,883.8 L1612.0,884.5 L1613.0,885.3 L1614.0,886.0 L1615.0,886.8 L1616.0,887.5 L1617.0,888.2 L1618.0,888.8 L1619.0,889.5 L1620.0,890.1 L1621.0,890.8 L1622.0,891.4 L1623.0,892.1 L1624.0,892.7 L1625.0,893.3 L1626.0,893.9 L1627.0,894.6 L1628.0,895.2 L1629.0,895.8 L1630.0,896.5 L1631.0,897.2 L1632.0,897.9 L1633.0,898.6 L1634.0,899.3 L1635.0,900.1 L1636.0,901.0 L1637.0,901.9 L1638.0,902.9 L1639.0,903.9 L1640.0,905.0 L1641.0,906.1 L1642.0,907.2 L1643.0,908.3 L1644.0,909.3 L1645.0,910.3 L1646.0,911.2 L1647.0,912.0 L1648.0,912.8 L1649.0,913.5 L1650.0,914.2 L1651.0,914.9 L1652.0,915.6 L1653.0,916.2 L1654.0,916.8 L1655.0,917.4 L1656.0,918.0 L1657.0,918.6 L1658.0,919.2 L1659.0,919.8 L1660.0,920.4 L1661.0,921.0 L1662.0,921.5 L1663.0,922.1 L1664.0,922.7 L1665.0,923.3 L1666.0,923.8 L1667.0,924.4 L1668.0,925.0 L1669.0,925.6 L1670.0,926.1 L1671.0,926.7 L1672.0,927.3 L1673.0,927.9 L1674.0,928.5 L1675.0,929.1 L1676.0,929.7 L1677.0,930.3 L1678.0,930.8 L1679.0,931.4 L1680.0,932.0 L1681.0,932.6 L1682.0,933.2 L1683.0,933.8 L1684.0,934.4 L1685.0,934.9 L1686.0,935.5 L1687.0,936.1 L1688.0,936.7 L1689.0,937.3 L1690.0,937.9 L1691.0,938.5 L1692.0,939.1 L1693.0,939.7 L1694.0,940.4 L1695.0,941.0 L1696.0,941.6 L1697.0,942.2 L1698.0,942.9 L1699.0,943.5 L1700.0,944.2 L1701.0,944.8 L1702.0,945.5 L1703.0,946.1 L1704.0,946.8 L1705.0,947.5 L1706.0,948.1 L1707.0,948.8 L1708.0,949.5 L1709.0,950.1 L1710.0,950.8 L1711.0,951.5 L1712.0,952.2 L1713.0,952.9 L1714.0,953.6 L1715.0,954.3 L1716.0,955.0 L1717.0,955.7 L1718.0,956.5 L1719.0,957.2 L1720.0,958.0 L1721.0,958.7 L1722.0,959.5 L1723.0,960.3 L1724.0,961.1 L1725.0,961.9 L1726.0,962.7 L1727.0,963.6 L1728.0,964.4 L1729.0,965.2 L1730.0,966.1 L1731.0,967.0 L1732.0,967.8 L1733.0,968.7 L1734.0,969.6 L1735.0,970.5 L1736.0,971.4 L1737.0,972.3 L1738.0,973.3 L1739.0,974.2 L1740.0,975.1 L1741.0,976.0 L1742.0,977.0 L1743.0,977.9 L1744.0,978.8 L1745.0,979.8 L1746.0,980.7 L1747.0,981.7 L1748.0,982.6 L1749.0,983.6 L1750.0,984.5 L1751.0,985.5 L1752.0,986.4 L1753.0,987.4 L1754.0,988.3 L1755.0,989.3 L1756.0,990.2 L1757.0,991.2 L1758.0,992.1 L1759.0,993.1 L1760.0,994.0 L1761.0,995.0 L1762.0,996.0 L1763.0,996.9 L1764.0,997.9 L1765.0,998.9 L1766.0,999.9 L1767.0,1000.9 L1768.0,1002.0 L1769.0,1003.0 L1770.0,1004.1 L1771.0,1005.2 L1772.0,1006.3 L1773.0,1007.4 L1774.0,1008.6 L1775.0,1009.9 L1776.0,1011.1 L1777.0,1012.5 L1778.0,1013.9 L1779.0,1015.5 L1780.0,1017.1 L1781.0,1018.7 L1782.0,1020.4 L1783.0,1022.1 L1784.0,1023.9 L1785.0,1025.6 L1786.0,1027.2 L1787.0,1028.8 L1788.0,1030.4 L1789.0,1031.9 L1790.0,1033.4 L1791.0,1034.8 L1792.0,1036.2 L1793.0,1037.6 L1794.0,1039.0 L1795.0,1040.4 L1796.0,1041.8 L1797.0,1043.1 L1798.0,1044.5 L1799.0,1045.9 L1800.0,1047.3 L1801.0,1048.7 L1802.0,1050.1 L1803.0,1051.5 L1804.0,1052.9 L1805.0,1054.3 L1806.0,1055.7 L1807.0,1057.2 L1808.0,1058.6 L1809.0,1059.9 L1810.0,1061.3 L1811.0,1062.7 L1812.0,1064.1 L1813.0,1065.5 L1814.0,1066.8 L1815.0,1068.2 L1816.0,1069.6 L1817.0,1070.9 L1818.0,1072.3 L1819.0,1073.6 L1820.0,1074.9 L1821.0,1076.2 L1822.0,1077.5 L1823.0,1078.7 L1824.0,1079.8 L1825.0,1081.0 L1826.0,1082.1 L1827.0,1083.2 L1828.0,1084.2 L1829.0,1085.2 L1830.0,1086.2 L1831.0,1087.2 L1832.0,1088.1 L1833.0,1089.1 L1834.0,1090.0 L1835.0,1091.0 L1836.0,1091.9 L1837.0,1092.8 L1838.0,1093.7 L1839.0,1094.6 L1840.0,1095.5 L1841.0,1096.3 L1842.0,1097.2 L1842.6,1098.0" fill="none" stroke="#00ffff" stroke-width="5.0" stroke-linejoin="round"/>
<rect x="349.5" y="84.5" width="3" height="3" fill="#d2d2d2"/>
<g stroke="#000" stroke-width="4.8" fill="none">
<rect x="281.0" y="42.5" width="1623.5" height="1256.3"/>
<path d="M330.8,1298.8 v-16.0 M330.8,42.5 v16.0 M381.6,1298.8 v-29.0 M381.6,42.5 v29.0 M432.4,1298.8 v-16.0 M432.4,42.5 v16.0 M483.1,1298.8 v-16.0 M483.1,42.5 v16.0 M533.9,1298.8 v-16.0 M533.9,42.5 v16.0 M584.6,1298.8 v-16.0 M584.6,42.5 v16.0 M635.4,1298.8 v-29.0 M635.4,42.5 v29.0 M686.1,1298.8 v-16.0 M686.1,42.5 v16.0 M736.9,1298.8 v-16.0 M736.9,42.5 v16.0 M787.6,1298.8 v-16.0 M787.6,42.5 v16.0 M838.4,1298.8 v-16.0 M838.4,42.5 v16.0 M889.2,1298.8 v-29.0 M889.2,42.5 v29.0 M939.9,1298.8 v-16.0 M939.9,42.5 v16.0 M990.7,1298.8 v-16.0 M990.7,42.5 v16.0 M1041.4,1298.8 v-16.0 M1041.4,42.5 v16.0 M1092.2,1298.8 v-16.0 M1092.2,42.5 v16.0 M1142.9,1298.8 v-29.0 M1142.9,42.5 v29.0 M1193.7,1298.8 v-16.0 M1193.7,42.5 v16.0 M1244.4,1298.8 v-16.0 M1244.4,42.5 v16.0 M1295.2,1298.8 v-16.0 M1295.2,42.5 v16.0 M1345.9,1298.8 v-16.0 M1345.9,42.5 v16.0 M1396.7,1298.8 v-29.0 M1396.7,42.5 v29.0 M1447.5,1298.8 v-16.0 M1447.5,42.5 v16.0 M1498.2,1298.8 v-16.0 M1498.2,42.5 v16.0 M1549.0,1298.8 v-16.0 M1549.0,42.5 v16.0 M1599.7,1298.8 v-16.0 M1599.7,42.5 v16.0 M1650.5,1298.8 v-29.0 M1650.5,42.5 v29.0 M1701.2,1298.8 v-16.0 M1701.2,42.5 v16.0 M1752.0,1298.8 v-16.0 M1752.0,42.5 v16.0 M1802.7,1298.8 v-16.0 M1802.7,42.5 v16.0 M1853.5,1298.8 v-16.0 M1853.5,42.5 v16.0 M281.0,1260.6 h28.0 M1904.5,1260.6 h-28.0 M281.0,1184.5 h16.0 M1904.5,1184.5 h-16.0 M281.0,1108.4 h16.0 M1904.5,1108.4 h-16.0 M281.0,1032.2 h16.0 M1904.5,1032.2 h-16.0 M281.0,956.1 h16.0 M1904.5,956.1 h-16.0 M281.0,880.0 h28.0 M1904.5,880.0 h-28.0 M281.0,803.9 h16.0 M1904.5,803.9 h-16.0 M281.0,727.8 h16.0 M1904.5,727.8 h-16.0 M281.0,651.6 h16.0 M1904.5,651.6 h-16.0 M281.0,575.5 h16.0 M1904.5,575.5 h-16.0 M281.0,499.4 h28.0 M1904.5,499.4 h-28.0 M281.0,423.3 h16.0 M1904.5,423.3 h-16.0 M281.0,347.2 h16.0 M1904.5,347.2 h-16.0 M281.0,271.0 h16.0 M1904.5,271.0 h-16.0 M281.0,194.9 h16.0 M1904.5,194.9 h-16.0 M281.0,118.8 h28.0 M1904.5,118.8 h-28.0" stroke-width="4.5"/>
</g>
<g font-family="'Liberation Sans', sans-serif" fill="#000">
<text x="382.5" y="1377.5" font-size="64" text-anchor="middle" textLength="90" lengthAdjust="spacingAndGlyphs">1.0</text>
<text x="634.7" y="1377.5" font-size="64" text-anchor="middle" textLength="90" lengthAdjust="spacingAndGlyphs">1.5</text>
<text x="888.5" y="1377.5" font-size="64" text-anchor="middle" textLength="90" lengthAdjust="spacingAndGlyphs">2.0</text>
<text x="1142.2" y="1377.5" font-size="64" text-anchor="middle" textLength="90" lengthAdjust="spacingAndGlyphs">2.5</text>
<text x="1396.0" y="1377.5" font-size="64" text-anchor="middle" textLength="90" lengthAdjust="spacingAndGlyphs">3.0</text>
<text x="1649.8" y="1377.5" font-size="64" text-anchor="middle" textLength="90" lengthAdjust="spacingAndGlyphs">3.5</text>
<text x="1902.5" y="1377.5" font-size="64" text-anchor="middle" textLength="90" lengthAdjust="spacingAndGlyphs">4.0</text>
<text x="251" y="1276.8" font-size="63" text-anchor="end" textLength="88" lengthAdjust="spacingAndGlyphs">0.0</text>
<text x="251" y="896.2" font-size="63" text-anchor="end" textLength="88" lengthAdjust="spacingAndGlyphs">0.1</text>
<text x="251" y="515.6" font-size="63" text-anchor="end" textLength="88" lengthAdjust="spacingAndGlyphs">0.2</text>
<text x="251" y="135.0" font-size="63" text-anchor="end" textLength="88" lengthAdjust="spacingAndGlyphs">0.3</text>
<text x="1092.5" y="1507" font-size="85.5" text-anchor="middle" textLength="429.5" lengthAdjust="spacingAndGlyphs">Energy [eV]</text>
<text transform="translate(97.3,718.8) rotate(-90)" font-size="77" text-anchor="middle" textLength="1059.5" lengthAdjust="spacingAndGlyphs">External Quantum Efficiency [1]</text>
<path d="M356,122.9 H508" stroke="#000" stroke-width="10" fill="none"/>
<text transform="translate(519.7,142.8) scale(1.035,1)" font-size="62" x="0.0 42.3 86.3 124.2 156.5 198.5" y="0">PC70BM</text>
<path d="M355.6,196.3 H384.5 M393.4,196.3 H424.5 M434.3,196.3 H464.7 M473.0,196.3 H507.5" stroke="#c2c2c2" stroke-width="10" fill="none"/>
<text transform="translate(519.7,216.6) scale(1.035,1)" font-size="62" x="0.0 42.3 86.3 124.2 156.5 198.5" y="0">PC60BM</text>
<path d="M356,266.1 H508" stroke="#55f8e6" stroke-width="10" fill="none"/>
<text transform="translate(520.4,285.6) scale(1.035,1)" font-size="62" x="0.0 17.0 61.5 99.4 132.9 149.0 192.9" y="0">[C70]B1</text>
<path d="M355.6,347.5 H384.5 M393.4,347.5 H424.5 M434.3,347.5 H464.7 M473.0,347.5 H507.5" stroke="#00f000" stroke-width="10" fill="none"/>
<text transform="translate(520.4,368.7) scale(1.035,1)" font-size="62" x="0.0 17.0 61.5 99.4 132.9 149.0 192.9" y="0">[C60]B1</text>
<path d="M356,431.6 H508" stroke="#00a2e8" stroke-width="10" fill="none"/>
<text transform="translate(519.6,452.8) scale(1.035,1)" font-size="62" x="0.0 17.0 61.5 99.4 132.9 149.0 192.9" y="0">[C70]P1</text>
<path d="M355.6,509.3 H384.5 M393.4,509.3 H424.5 M434.3,509.3 H464.7 M473.0,509.3 H507.5" stroke="#ff0000" stroke-width="10" fill="none"/>
<text transform="translate(519.6,530.0) scale(1.035,1)" font-size="62" x="0.0 17.0 61.5 99.4 132.9 149.0 192.9" y="0">[C60]P1</text>
<text x="1171.3" y="333.6" font-size="61" fill="#000" textLength="42.5" lengthAdjust="spacingAndGlyphs">C</text>
<text x="1213.2" y="357.4" font-size="38" fill="#000" textLength="37.5" lengthAdjust="spacingAndGlyphs">70</text>
<text x="1097.0" y="543.8" font-size="61" fill="#cecece" textLength="42.5" lengthAdjust="spacingAndGlyphs">C</text>
<text x="1137.5" y="566.6" font-size="38" fill="#cecece" textLength="37.5" lengthAdjust="spacingAndGlyphs">60</text>
<text x="1085.2" y="835.3" font-size="61" fill="#00ffff" textLength="42.5" lengthAdjust="spacingAndGlyphs">C</text>
<text x="1126.0" y="858.2" font-size="38" fill="#00ffff" textLength="37.5" lengthAdjust="spacingAndGlyphs">70</text>
<text x="1057.8" y="1005.8" font-size="61" fill="#00f000" textLength="42.5" lengthAdjust="spacingAndGlyphs">C</text>
<text x="1098.0" y="1028.2" font-size="38" fill="#00f000" textLength="37.5" lengthAdjust="spacingAndGlyphs">60</text>
<text x="1199.8" y="1047.0" font-size="61" fill="#0000f0" textLength="42.5" lengthAdjust="spacingAndGlyphs">C</text>
<text x="1241.5" y="1069.6" font-size="38" fill="#0000f0" textLength="37.5" lengthAdjust="spacingAndGlyphs">70</text>
<text x="1153.8" y="1185.6" font-size="61" fill="#ff0000" textLength="42.5" lengthAdjust="spacingAndGlyphs">C</text>
<text x="1194.5" y="1208.5" font-size="38" fill="#ff0000" textLength="37.5" lengthAdjust="spacingAndGlyphs">60</text>
<text x="1350" y="1013.5" font-size="61" fill="#14060f" textLength="60" lengthAdjust="spacingAndGlyphs">x6</text>
</g>
</svg>
</body></html>
